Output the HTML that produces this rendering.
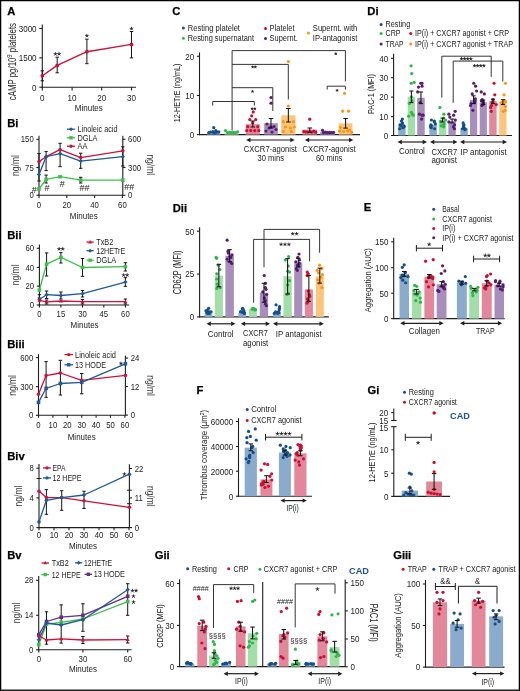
<!DOCTYPE html>
<html><head><meta charset="utf-8"><style>
html,body{margin:0;padding:0;background:#fff;}
body{width:520px;height:691px;overflow:hidden;}
svg{display:block;font-family:"Liberation Sans",sans-serif;will-change:transform;filter:blur(0.3px);}
</style></head><body>
<svg width="520" height="691" viewBox="0 0 520 691" fill="#222">
<rect x="0" y="0" width="520" height="691" fill="#fff"/>
<text x="7.2" y="14.8" font-size="11.2" font-weight="bold" fill="#000" stroke="#000" stroke-width="0.25">A</text>
<line x1="42.3" y1="24.6" x2="42.3" y2="87.7" stroke="#1e1e1e" stroke-width="1.1"/>
<line x1="39.3" y1="28.5" x2="42.3" y2="28.5" stroke="#1e1e1e" stroke-width="1.1"/>
<text x="36.6" y="31.86" font-size="9.6" text-anchor="end" textLength="17.94" lengthAdjust="spacingAndGlyphs">3000</text>
<line x1="39.3" y1="57.85" x2="42.3" y2="57.85" stroke="#1e1e1e" stroke-width="1.1"/>
<text x="36.6" y="61.21" font-size="9.6" text-anchor="end" textLength="17.94" lengthAdjust="spacingAndGlyphs">1500</text>
<line x1="39.3" y1="87.2" x2="42.3" y2="87.2" stroke="#1e1e1e" stroke-width="1.1"/>
<text x="36.6" y="90.56" font-size="9.6" text-anchor="end" textLength="4.48" lengthAdjust="spacingAndGlyphs">0</text>
<line x1="41.8" y1="87.2" x2="136" y2="87.2" stroke="#1e1e1e" stroke-width="1.1"/>
<line x1="42.3" y1="87.2" x2="42.3" y2="90.5" stroke="#1e1e1e" stroke-width="1.1"/>
<text x="42.3" y="100.76" font-size="9.6" text-anchor="middle" textLength="4.48" lengthAdjust="spacingAndGlyphs">0</text>
<line x1="72.1" y1="87.2" x2="72.1" y2="90.5" stroke="#1e1e1e" stroke-width="1.1"/>
<text x="72.1" y="100.76" font-size="9.6" text-anchor="middle" textLength="8.97" lengthAdjust="spacingAndGlyphs">10</text>
<line x1="101.7" y1="87.2" x2="101.7" y2="90.5" stroke="#1e1e1e" stroke-width="1.1"/>
<text x="101.7" y="100.76" font-size="9.6" text-anchor="middle" textLength="8.97" lengthAdjust="spacingAndGlyphs">20</text>
<line x1="131.5" y1="87.2" x2="131.5" y2="90.5" stroke="#1e1e1e" stroke-width="1.1"/>
<text x="131.5" y="100.76" font-size="9.6" text-anchor="middle" textLength="8.97" lengthAdjust="spacingAndGlyphs">30</text>
<text x="88.8" y="110.95" font-size="9" text-anchor="middle" textLength="28" lengthAdjust="spacingAndGlyphs">Minutes</text>
<text transform="rotate(-90 12.6 61.6)" x="12.6" y="65.1" font-size="10" text-anchor="middle" textLength="77.2" lengthAdjust="spacingAndGlyphs">cAMP pg/10<tspan font-size="7.5" dy="-3.8">9</tspan><tspan dy="3.8"> platelets</tspan></text>
<line x1="42.3" y1="70.8" x2="42.3" y2="80.8" stroke="#151515" stroke-width="1"/>
<line x1="40.6" y1="70.8" x2="44" y2="70.8" stroke="#151515" stroke-width="1"/>
<line x1="40.6" y1="80.8" x2="44" y2="80.8" stroke="#151515" stroke-width="1"/>
<line x1="57.2" y1="57.2" x2="57.2" y2="72.8" stroke="#151515" stroke-width="1"/>
<line x1="55.5" y1="57.2" x2="58.9" y2="57.2" stroke="#151515" stroke-width="1"/>
<line x1="55.5" y1="72.8" x2="58.9" y2="72.8" stroke="#151515" stroke-width="1"/>
<line x1="86.9" y1="39.2" x2="86.9" y2="63.7" stroke="#151515" stroke-width="1"/>
<line x1="85.2" y1="39.2" x2="88.6" y2="39.2" stroke="#151515" stroke-width="1"/>
<line x1="85.2" y1="63.7" x2="88.6" y2="63.7" stroke="#151515" stroke-width="1"/>
<line x1="131.5" y1="31.5" x2="131.5" y2="57.9" stroke="#151515" stroke-width="1"/>
<line x1="129.8" y1="31.5" x2="133.2" y2="31.5" stroke="#151515" stroke-width="1"/>
<line x1="129.8" y1="57.9" x2="133.2" y2="57.9" stroke="#151515" stroke-width="1"/>
<polyline points="42.3,75.8 57.2,65.4 86.9,51.7 131.5,44.4" fill="none" stroke="#d0103a" stroke-width="1.4" stroke-linejoin="round"/>
<circle cx="42.3" cy="75.8" r="1.9" fill="#d0103a"/>
<circle cx="57.2" cy="65.4" r="1.9" fill="#d0103a"/>
<circle cx="86.9" cy="51.7" r="1.9" fill="#d0103a"/>
<circle cx="131.5" cy="44.4" r="1.9" fill="#d0103a"/>
<path d="M55.4 54L55.4 52.5M55.4 54L56.83 53.54M55.4 54L56.28 55.21M55.4 54L54.52 55.21M55.4 54L53.97 53.54" stroke="#222" stroke-width="0.85" stroke-linecap="round"/>
<path d="M59 54L59 52.5M59 54L60.43 53.54M59 54L59.88 55.21M59 54L58.12 55.21M59 54L57.57 53.54" stroke="#222" stroke-width="0.85" stroke-linecap="round"/>
<path d="M86.9 35.8L86.9 34.3M86.9 35.8L88.33 35.34M86.9 35.8L87.78 37.01M86.9 35.8L86.02 37.01M86.9 35.8L85.47 35.34" stroke="#222" stroke-width="0.85" stroke-linecap="round"/>
<path d="M131.5 28.7L131.5 27.2M131.5 28.7L132.93 28.24M131.5 28.7L132.38 29.91M131.5 28.7L130.62 29.91M131.5 28.7L130.07 28.24" stroke="#222" stroke-width="0.85" stroke-linecap="round"/>
<text x="7.2" y="127" font-size="11.2" font-weight="bold" fill="#000" stroke="#000" stroke-width="0.25">Bi</text>
<line x1="39" y1="135.7" x2="39" y2="195.8" stroke="#1e1e1e" stroke-width="1.1"/>
<line x1="36.4" y1="139.3" x2="39" y2="139.3" stroke="#1e1e1e" stroke-width="1.1"/>
<text x="33.7" y="142.45" font-size="9" text-anchor="end" textLength="12.91" lengthAdjust="spacingAndGlyphs">150</text>
<line x1="36.4" y1="167.5" x2="39" y2="167.5" stroke="#1e1e1e" stroke-width="1.1"/>
<text x="33.7" y="170.65" font-size="9" text-anchor="end" textLength="8.61" lengthAdjust="spacingAndGlyphs">75</text>
<line x1="36.4" y1="195.3" x2="39" y2="195.3" stroke="#1e1e1e" stroke-width="1.1"/>
<text x="33.7" y="198.45" font-size="9" text-anchor="end" textLength="4.3" lengthAdjust="spacingAndGlyphs">0</text>
<line x1="122.8" y1="135.7" x2="122.8" y2="195.8" stroke="#1e1e1e" stroke-width="1.1"/>
<line x1="122.8" y1="139.3" x2="125.4" y2="139.3" stroke="#1e1e1e" stroke-width="1.1"/>
<text x="128.1" y="142.45" font-size="9" textLength="12.91" lengthAdjust="spacingAndGlyphs">600</text>
<line x1="122.8" y1="167.5" x2="125.4" y2="167.5" stroke="#1e1e1e" stroke-width="1.1"/>
<text x="128.1" y="170.65" font-size="9" textLength="12.91" lengthAdjust="spacingAndGlyphs">300</text>
<line x1="122.8" y1="195.3" x2="125.4" y2="195.3" stroke="#1e1e1e" stroke-width="1.1"/>
<text x="128.1" y="198.45" font-size="9" textLength="4.3" lengthAdjust="spacingAndGlyphs">0</text>
<line x1="38.5" y1="195.3" x2="122.8" y2="195.3" stroke="#1e1e1e" stroke-width="1.1"/>
<line x1="39" y1="195.3" x2="39" y2="197.9" stroke="#1e1e1e" stroke-width="1.1"/>
<text x="39" y="207.95" font-size="9" text-anchor="middle" textLength="4.3" lengthAdjust="spacingAndGlyphs">0</text>
<line x1="66.8" y1="195.3" x2="66.8" y2="197.9" stroke="#1e1e1e" stroke-width="1.1"/>
<text x="66.8" y="207.95" font-size="9" text-anchor="middle" textLength="8.61" lengthAdjust="spacingAndGlyphs">20</text>
<line x1="94.6" y1="195.3" x2="94.6" y2="197.9" stroke="#1e1e1e" stroke-width="1.1"/>
<text x="94.6" y="207.95" font-size="9" text-anchor="middle" textLength="8.61" lengthAdjust="spacingAndGlyphs">40</text>
<line x1="122.4" y1="195.3" x2="122.4" y2="197.9" stroke="#1e1e1e" stroke-width="1.1"/>
<text x="122.4" y="207.95" font-size="9" text-anchor="middle" textLength="8.61" lengthAdjust="spacingAndGlyphs">60</text>
<text x="83.8" y="219.15" font-size="9" text-anchor="middle" textLength="28" lengthAdjust="spacingAndGlyphs">Minutes</text>
<text transform="rotate(-90 15.5 165.5)" x="15.5" y="169" font-size="10" text-anchor="middle" textLength="20.8" lengthAdjust="spacingAndGlyphs" fill="#3a3a3a">ng/ml</text>
<text transform="rotate(90 150.6 164.8)" x="150.6" y="168.3" font-size="10" text-anchor="middle" textLength="20.8" lengthAdjust="spacingAndGlyphs" fill="#3a3a3a">ng/ml</text>
<line x1="67" y1="129.2" x2="75" y2="129.2" stroke="#1f5a96" stroke-width="1.3"/>
<path d="M71 127.16L73.04 129.2L71 131.24L68.96 129.2Z" fill="#1f5a96"/>
<text x="77.5" y="132.17" font-size="8.5" textLength="40" lengthAdjust="spacingAndGlyphs">Linoleic acid</text>
<line x1="67" y1="137.8" x2="75" y2="137.8" stroke="#3cc04a" stroke-width="1.3"/>
<rect x="69.3" y="136.1" width="3.4" height="3.4" fill="#3cc04a"/>
<text x="77.5" y="140.78" font-size="8.5" textLength="20" lengthAdjust="spacingAndGlyphs">DGLA</text>
<line x1="67" y1="146.2" x2="75" y2="146.2" stroke="#d0103a" stroke-width="1.3"/>
<circle cx="71" cy="146.2" r="1.7" fill="#d0103a"/>
<text x="77.5" y="149.17" font-size="8.5" textLength="10" lengthAdjust="spacingAndGlyphs">AA</text>
<line x1="39" y1="153.6" x2="39" y2="181" stroke="#151515" stroke-width="1"/>
<line x1="37.3" y1="153.6" x2="40.7" y2="153.6" stroke="#151515" stroke-width="1"/>
<line x1="37.3" y1="181" x2="40.7" y2="181" stroke="#151515" stroke-width="1"/>
<line x1="46.1" y1="151.6" x2="46.1" y2="170.6" stroke="#151515" stroke-width="1"/>
<line x1="44.4" y1="151.6" x2="47.8" y2="151.6" stroke="#151515" stroke-width="1"/>
<line x1="44.4" y1="170.6" x2="47.8" y2="170.6" stroke="#151515" stroke-width="1"/>
<line x1="46.1" y1="175.1" x2="46.1" y2="183" stroke="#151515" stroke-width="1"/>
<line x1="44.4" y1="175.1" x2="47.8" y2="175.1" stroke="#151515" stroke-width="1"/>
<line x1="44.4" y1="183" x2="47.8" y2="183" stroke="#151515" stroke-width="1"/>
<line x1="60.1" y1="143.3" x2="60.1" y2="166.7" stroke="#151515" stroke-width="1"/>
<line x1="58.4" y1="143.3" x2="61.8" y2="143.3" stroke="#151515" stroke-width="1"/>
<line x1="58.4" y1="166.7" x2="61.8" y2="166.7" stroke="#151515" stroke-width="1"/>
<line x1="80.7" y1="153.2" x2="80.7" y2="168.3" stroke="#151515" stroke-width="1"/>
<line x1="79" y1="153.2" x2="82.4" y2="153.2" stroke="#151515" stroke-width="1"/>
<line x1="79" y1="168.3" x2="82.4" y2="168.3" stroke="#151515" stroke-width="1"/>
<line x1="80.7" y1="177.3" x2="80.7" y2="183" stroke="#151515" stroke-width="1"/>
<line x1="79" y1="177.3" x2="82.4" y2="177.3" stroke="#151515" stroke-width="1"/>
<line x1="79" y1="183" x2="82.4" y2="183" stroke="#151515" stroke-width="1"/>
<line x1="122.8" y1="146.8" x2="122.8" y2="166" stroke="#151515" stroke-width="1"/>
<line x1="121.1" y1="146.8" x2="124.5" y2="146.8" stroke="#151515" stroke-width="1"/>
<line x1="121.1" y1="166" x2="124.5" y2="166" stroke="#151515" stroke-width="1"/>
<polyline points="39,161.6 46.1,156.7 60.1,149.7 80.7,157.6 122.8,150.8" fill="none" stroke="#d0103a" stroke-width="1.3" stroke-linejoin="round"/>
<circle cx="39" cy="161.6" r="1.8" fill="#d0103a"/>
<circle cx="46.1" cy="156.7" r="1.8" fill="#d0103a"/>
<circle cx="60.1" cy="149.7" r="1.8" fill="#d0103a"/>
<circle cx="80.7" cy="157.6" r="1.8" fill="#d0103a"/>
<circle cx="122.8" cy="150.8" r="1.8" fill="#d0103a"/>
<polyline points="39,174.6 46.1,156.7 60.1,153.6 80.7,161.1 122.8,156.7" fill="none" stroke="#1f5a96" stroke-width="1.3" stroke-linejoin="round"/>
<path d="M39 172.44L41.16 174.6L39 176.76L36.84 174.6Z" fill="#1f5a96"/>
<path d="M46.1 154.54L48.26 156.7L46.1 158.86L43.94 156.7Z" fill="#1f5a96"/>
<path d="M60.1 151.44L62.26 153.6L60.1 155.76L57.94 153.6Z" fill="#1f5a96"/>
<path d="M80.7 158.94L82.86 161.1L80.7 163.26L78.54 161.1Z" fill="#1f5a96"/>
<path d="M122.8 154.54L124.96 156.7L122.8 158.86L120.64 156.7Z" fill="#1f5a96"/>
<polyline points="39,189 46.1,179.4 60.1,176.7 80.7,180.2 122.8,180.2" fill="none" stroke="#3cc04a" stroke-width="1.3" stroke-linejoin="round"/>
<rect x="37.2" y="187.2" width="3.6" height="3.6" fill="#3cc04a"/>
<rect x="44.3" y="177.6" width="3.6" height="3.6" fill="#3cc04a"/>
<rect x="58.3" y="174.9" width="3.6" height="3.6" fill="#3cc04a"/>
<rect x="78.9" y="178.4" width="3.6" height="3.6" fill="#3cc04a"/>
<rect x="121" y="178.4" width="3.6" height="3.6" fill="#3cc04a"/>
<text x="34.2" y="192.55" font-size="9" text-anchor="middle">#</text>
<text x="46.9" y="191.25" font-size="9" text-anchor="middle">#</text>
<text x="62.3" y="186.55" font-size="9" text-anchor="middle">#</text>
<text x="84.6" y="191.25" font-size="9" text-anchor="middle">##</text>
<text x="129.2" y="190.15" font-size="9" text-anchor="middle">##</text>
<text x="7.2" y="239.4" font-size="11.2" font-weight="bold" fill="#000" stroke="#000" stroke-width="0.25">Bii</text>
<line x1="39.4" y1="244.6" x2="39.4" y2="305.5" stroke="#1e1e1e" stroke-width="1.1"/>
<line x1="36.8" y1="248.3" x2="39.4" y2="248.3" stroke="#1e1e1e" stroke-width="1.1"/>
<text x="34.1" y="251.45" font-size="9" text-anchor="end" textLength="8.61" lengthAdjust="spacingAndGlyphs">60</text>
<line x1="36.8" y1="267.4" x2="39.4" y2="267.4" stroke="#1e1e1e" stroke-width="1.1"/>
<text x="34.1" y="270.55" font-size="9" text-anchor="end" textLength="8.61" lengthAdjust="spacingAndGlyphs">40</text>
<line x1="36.8" y1="286.1" x2="39.4" y2="286.1" stroke="#1e1e1e" stroke-width="1.1"/>
<text x="34.1" y="289.25" font-size="9" text-anchor="end" textLength="8.61" lengthAdjust="spacingAndGlyphs">20</text>
<line x1="36.8" y1="305" x2="39.4" y2="305" stroke="#1e1e1e" stroke-width="1.1"/>
<text x="34.1" y="308.15" font-size="9" text-anchor="end" textLength="4.3" lengthAdjust="spacingAndGlyphs">0</text>
<line x1="38.9" y1="305" x2="129.2" y2="305" stroke="#1e1e1e" stroke-width="1.1"/>
<line x1="39.4" y1="305" x2="39.4" y2="307.6" stroke="#1e1e1e" stroke-width="1.1"/>
<text x="39.4" y="317.45" font-size="9" text-anchor="middle" textLength="4.3" lengthAdjust="spacingAndGlyphs">0</text>
<line x1="60.9" y1="305" x2="60.9" y2="307.6" stroke="#1e1e1e" stroke-width="1.1"/>
<text x="60.9" y="317.45" font-size="9" text-anchor="middle" textLength="8.61" lengthAdjust="spacingAndGlyphs">15</text>
<line x1="82.5" y1="305" x2="82.5" y2="307.6" stroke="#1e1e1e" stroke-width="1.1"/>
<text x="82.5" y="317.45" font-size="9" text-anchor="middle" textLength="8.61" lengthAdjust="spacingAndGlyphs">30</text>
<line x1="103.8" y1="305" x2="103.8" y2="307.6" stroke="#1e1e1e" stroke-width="1.1"/>
<text x="103.8" y="317.45" font-size="9" text-anchor="middle" textLength="8.61" lengthAdjust="spacingAndGlyphs">45</text>
<line x1="125.4" y1="305" x2="125.4" y2="307.6" stroke="#1e1e1e" stroke-width="1.1"/>
<text x="125.4" y="317.45" font-size="9" text-anchor="middle" textLength="8.61" lengthAdjust="spacingAndGlyphs">60</text>
<text x="84.6" y="327.95" font-size="9" text-anchor="middle" textLength="28" lengthAdjust="spacingAndGlyphs">Minutes</text>
<text transform="rotate(-90 15.4 274.8)" x="15.4" y="278.3" font-size="10" text-anchor="middle" textLength="20.8" lengthAdjust="spacingAndGlyphs" fill="#3a3a3a">ng/ml</text>
<line x1="86.5" y1="242.1" x2="93.7" y2="242.1" stroke="#d0103a" stroke-width="1.3"/>
<path d="M90.1 240.06L91.97 243.46L88.23 243.46Z" fill="#d0103a"/>
<text x="96.2" y="245.07" font-size="8.5" textLength="17" lengthAdjust="spacingAndGlyphs">TxB2</text>
<line x1="86.5" y1="250.7" x2="93.7" y2="250.7" stroke="#1f5a96" stroke-width="1.3"/>
<path d="M90.1 248.66L92.14 250.7L90.1 252.74L88.06 250.7Z" fill="#1f5a96"/>
<text x="96.2" y="253.67" font-size="8.5" textLength="29" lengthAdjust="spacingAndGlyphs">12HETrE</text>
<line x1="86.5" y1="260.2" x2="93.7" y2="260.2" stroke="#3cc04a" stroke-width="1.3"/>
<rect x="88.4" y="258.5" width="3.4" height="3.4" fill="#3cc04a"/>
<text x="96.2" y="263.18" font-size="8.5" textLength="20" lengthAdjust="spacingAndGlyphs">DGLA</text>
<line x1="46.6" y1="252.9" x2="46.6" y2="276" stroke="#151515" stroke-width="1"/>
<line x1="44.9" y1="252.9" x2="48.3" y2="252.9" stroke="#151515" stroke-width="1"/>
<line x1="44.9" y1="276" x2="48.3" y2="276" stroke="#151515" stroke-width="1"/>
<line x1="60.9" y1="252.6" x2="60.9" y2="263" stroke="#151515" stroke-width="1"/>
<line x1="59.2" y1="252.6" x2="62.6" y2="252.6" stroke="#151515" stroke-width="1"/>
<line x1="59.2" y1="263" x2="62.6" y2="263" stroke="#151515" stroke-width="1"/>
<line x1="82.5" y1="258.5" x2="82.5" y2="276.3" stroke="#151515" stroke-width="1"/>
<line x1="80.8" y1="258.5" x2="84.2" y2="258.5" stroke="#151515" stroke-width="1"/>
<line x1="80.8" y1="276.3" x2="84.2" y2="276.3" stroke="#151515" stroke-width="1"/>
<line x1="125.4" y1="262.7" x2="125.4" y2="271" stroke="#151515" stroke-width="1"/>
<line x1="123.7" y1="262.7" x2="127.1" y2="262.7" stroke="#151515" stroke-width="1"/>
<line x1="123.7" y1="271" x2="127.1" y2="271" stroke="#151515" stroke-width="1"/>
<line x1="46.6" y1="291" x2="46.6" y2="298.5" stroke="#151515" stroke-width="1"/>
<line x1="44.9" y1="291" x2="48.3" y2="291" stroke="#151515" stroke-width="1"/>
<line x1="44.9" y1="298.5" x2="48.3" y2="298.5" stroke="#151515" stroke-width="1"/>
<line x1="60.9" y1="292" x2="60.9" y2="299" stroke="#151515" stroke-width="1"/>
<line x1="59.2" y1="292" x2="62.6" y2="292" stroke="#151515" stroke-width="1"/>
<line x1="59.2" y1="299" x2="62.6" y2="299" stroke="#151515" stroke-width="1"/>
<line x1="82.5" y1="290.5" x2="82.5" y2="297" stroke="#151515" stroke-width="1"/>
<line x1="80.8" y1="290.5" x2="84.2" y2="290.5" stroke="#151515" stroke-width="1"/>
<line x1="80.8" y1="297" x2="84.2" y2="297" stroke="#151515" stroke-width="1"/>
<line x1="125.4" y1="277.7" x2="125.4" y2="286.3" stroke="#151515" stroke-width="1"/>
<line x1="123.7" y1="277.7" x2="127.1" y2="277.7" stroke="#151515" stroke-width="1"/>
<line x1="123.7" y1="286.3" x2="127.1" y2="286.3" stroke="#151515" stroke-width="1"/>
<line x1="39.4" y1="294.7" x2="39.4" y2="298" stroke="#151515" stroke-width="1"/>
<line x1="37.7" y1="294.7" x2="41.1" y2="294.7" stroke="#151515" stroke-width="1"/>
<line x1="37.7" y1="298" x2="41.1" y2="298" stroke="#151515" stroke-width="1"/>
<line x1="125.4" y1="299" x2="125.4" y2="304" stroke="#151515" stroke-width="1"/>
<line x1="123.7" y1="299" x2="127.1" y2="299" stroke="#151515" stroke-width="1"/>
<line x1="123.7" y1="304" x2="127.1" y2="304" stroke="#151515" stroke-width="1"/>
<line x1="82.5" y1="299.5" x2="82.5" y2="304" stroke="#151515" stroke-width="1"/>
<line x1="80.8" y1="299.5" x2="84.2" y2="299.5" stroke="#151515" stroke-width="1"/>
<line x1="80.8" y1="304" x2="84.2" y2="304" stroke="#151515" stroke-width="1"/>
<line x1="46.6" y1="300" x2="46.6" y2="304" stroke="#151515" stroke-width="1"/>
<line x1="44.9" y1="300" x2="48.3" y2="300" stroke="#151515" stroke-width="1"/>
<line x1="44.9" y1="304" x2="48.3" y2="304" stroke="#151515" stroke-width="1"/>
<polyline points="39.4,290 46.6,264.2 60.9,257.4 82.5,267.5 125.4,266.7" fill="none" stroke="#3cc04a" stroke-width="1.3" stroke-linejoin="round"/>
<rect x="37.6" y="288.2" width="3.6" height="3.6" fill="#3cc04a"/>
<rect x="44.8" y="262.4" width="3.6" height="3.6" fill="#3cc04a"/>
<rect x="59.1" y="255.6" width="3.6" height="3.6" fill="#3cc04a"/>
<rect x="80.7" y="265.7" width="3.6" height="3.6" fill="#3cc04a"/>
<rect x="123.6" y="264.9" width="3.6" height="3.6" fill="#3cc04a"/>
<polyline points="39.4,299.5 46.6,294.7 60.9,295.5 82.5,293.7 125.4,282.1" fill="none" stroke="#1f5a96" stroke-width="1.3" stroke-linejoin="round"/>
<path d="M39.4 297.34L41.56 299.5L39.4 301.66L37.24 299.5Z" fill="#1f5a96"/>
<path d="M46.6 292.54L48.76 294.7L46.6 296.86L44.44 294.7Z" fill="#1f5a96"/>
<path d="M60.9 293.34L63.06 295.5L60.9 297.66L58.74 295.5Z" fill="#1f5a96"/>
<path d="M82.5 291.54L84.66 293.7L82.5 295.86L80.34 293.7Z" fill="#1f5a96"/>
<path d="M125.4 279.94L127.56 282.1L125.4 284.26L123.24 282.1Z" fill="#1f5a96"/>
<polyline points="39.4,300.3 46.6,301.9 60.9,301 82.5,301.7 125.4,301.7" fill="none" stroke="#d0103a" stroke-width="1.3" stroke-linejoin="round"/>
<path d="M39.4 298.14L41.38 301.74L37.42 301.74Z" fill="#d0103a"/>
<path d="M46.6 299.74L48.58 303.34L44.62 303.34Z" fill="#d0103a"/>
<path d="M60.9 298.84L62.88 302.44L58.92 302.44Z" fill="#d0103a"/>
<path d="M82.5 299.54L84.48 303.14L80.52 303.14Z" fill="#d0103a"/>
<path d="M125.4 299.54L127.38 303.14L123.42 303.14Z" fill="#d0103a"/>
<path d="M59.1 249L59.1 247.5M59.1 249L60.53 248.54M59.1 249L59.98 250.21M59.1 249L58.22 250.21M59.1 249L57.67 248.54" stroke="#222" stroke-width="0.85" stroke-linecap="round"/>
<path d="M62.7 249L62.7 247.5M62.7 249L64.13 248.54M62.7 249L63.58 250.21M62.7 249L61.82 250.21M62.7 249L61.27 248.54" stroke="#222" stroke-width="0.85" stroke-linecap="round"/>
<path d="M123.6 275.2L123.6 273.7M123.6 275.2L125.03 274.74M123.6 275.2L124.48 276.41M123.6 275.2L122.72 276.41M123.6 275.2L122.17 274.74" stroke="#222" stroke-width="0.85" stroke-linecap="round"/>
<path d="M127.2 275.2L127.2 273.7M127.2 275.2L128.63 274.74M127.2 275.2L128.08 276.41M127.2 275.2L126.32 276.41M127.2 275.2L125.77 274.74" stroke="#222" stroke-width="0.85" stroke-linecap="round"/>
<text x="7.2" y="348.4" font-size="11.2" font-weight="bold" fill="#000" stroke="#000" stroke-width="0.25">Biii</text>
<line x1="38.5" y1="354.1" x2="38.5" y2="415.8" stroke="#1e1e1e" stroke-width="1.1"/>
<line x1="35.9" y1="357.6" x2="38.5" y2="357.6" stroke="#1e1e1e" stroke-width="1.1"/>
<text x="33.2" y="360.75" font-size="9" text-anchor="end" textLength="12.91" lengthAdjust="spacingAndGlyphs">600</text>
<line x1="35.9" y1="386.7" x2="38.5" y2="386.7" stroke="#1e1e1e" stroke-width="1.1"/>
<text x="33.2" y="389.85" font-size="9" text-anchor="end" textLength="12.91" lengthAdjust="spacingAndGlyphs">300</text>
<line x1="35.9" y1="415.3" x2="38.5" y2="415.3" stroke="#1e1e1e" stroke-width="1.1"/>
<text x="33.2" y="418.45" font-size="9" text-anchor="end" textLength="4.3" lengthAdjust="spacingAndGlyphs">0</text>
<line x1="125.4" y1="355.8" x2="125.4" y2="415.8" stroke="#1e1e1e" stroke-width="1.1"/>
<line x1="125.4" y1="358.1" x2="128" y2="358.1" stroke="#1e1e1e" stroke-width="1.1"/>
<text x="130.7" y="361.25" font-size="9" textLength="8.61" lengthAdjust="spacingAndGlyphs">24</text>
<line x1="125.4" y1="386.5" x2="128" y2="386.5" stroke="#1e1e1e" stroke-width="1.1"/>
<text x="130.7" y="389.65" font-size="9" textLength="8.61" lengthAdjust="spacingAndGlyphs">12</text>
<line x1="125.4" y1="415.1" x2="128" y2="415.1" stroke="#1e1e1e" stroke-width="1.1"/>
<text x="130.7" y="418.25" font-size="9" textLength="4.3" lengthAdjust="spacingAndGlyphs">0</text>
<line x1="38" y1="415.2" x2="125.4" y2="415.2" stroke="#1e1e1e" stroke-width="1.1"/>
<line x1="38.5" y1="415.2" x2="38.5" y2="417.8" stroke="#1e1e1e" stroke-width="1.1"/>
<text x="38.5" y="427.95" font-size="9" text-anchor="middle" textLength="4.3" lengthAdjust="spacingAndGlyphs">0</text>
<line x1="52.9" y1="415.2" x2="52.9" y2="417.8" stroke="#1e1e1e" stroke-width="1.1"/>
<text x="52.9" y="427.95" font-size="9" text-anchor="middle" textLength="8.61" lengthAdjust="spacingAndGlyphs">10</text>
<line x1="67.3" y1="415.2" x2="67.3" y2="417.8" stroke="#1e1e1e" stroke-width="1.1"/>
<text x="67.3" y="427.95" font-size="9" text-anchor="middle" textLength="8.61" lengthAdjust="spacingAndGlyphs">20</text>
<line x1="81.7" y1="415.2" x2="81.7" y2="417.8" stroke="#1e1e1e" stroke-width="1.1"/>
<text x="81.7" y="427.95" font-size="9" text-anchor="middle" textLength="8.61" lengthAdjust="spacingAndGlyphs">30</text>
<line x1="96.1" y1="415.2" x2="96.1" y2="417.8" stroke="#1e1e1e" stroke-width="1.1"/>
<text x="96.1" y="427.95" font-size="9" text-anchor="middle" textLength="8.61" lengthAdjust="spacingAndGlyphs">40</text>
<line x1="110.5" y1="415.2" x2="110.5" y2="417.8" stroke="#1e1e1e" stroke-width="1.1"/>
<text x="110.5" y="427.95" font-size="9" text-anchor="middle" textLength="8.61" lengthAdjust="spacingAndGlyphs">50</text>
<line x1="124.9" y1="415.2" x2="124.9" y2="417.8" stroke="#1e1e1e" stroke-width="1.1"/>
<text x="124.9" y="427.95" font-size="9" text-anchor="middle" textLength="8.61" lengthAdjust="spacingAndGlyphs">60</text>
<text x="81.7" y="440.45" font-size="9" text-anchor="middle" textLength="28" lengthAdjust="spacingAndGlyphs">Minutes</text>
<text transform="rotate(-90 12.1 385.4)" x="12.1" y="388.9" font-size="10" text-anchor="middle" textLength="20.8" lengthAdjust="spacingAndGlyphs" fill="#3a3a3a">ng/ml</text>
<text transform="rotate(90 150 385.6)" x="150" y="389.1" font-size="10" text-anchor="middle" textLength="20.8" lengthAdjust="spacingAndGlyphs" fill="#3a3a3a">ng/ml</text>
<line x1="64.5" y1="354.6" x2="73" y2="354.6" stroke="#d0103a" stroke-width="1.3"/>
<circle cx="68.75" cy="354.6" r="1.7" fill="#d0103a"/>
<text x="75" y="357.58" font-size="8.5" textLength="41" lengthAdjust="spacingAndGlyphs">Linoleic acid</text>
<line x1="64.5" y1="364.8" x2="73" y2="364.8" stroke="#1f5a96" stroke-width="1.3"/>
<rect x="67.05" y="363.1" width="3.4" height="3.4" fill="#1f5a96"/>
<text x="75" y="367.78" font-size="8.5" textLength="31" lengthAdjust="spacingAndGlyphs">13 HODE</text>
<line x1="46.1" y1="361.6" x2="46.1" y2="397.3" stroke="#151515" stroke-width="1"/>
<line x1="44.4" y1="361.6" x2="47.8" y2="361.6" stroke="#151515" stroke-width="1"/>
<line x1="44.4" y1="397.3" x2="47.8" y2="397.3" stroke="#151515" stroke-width="1"/>
<line x1="60.4" y1="360.3" x2="60.4" y2="395" stroke="#151515" stroke-width="1"/>
<line x1="58.7" y1="360.3" x2="62.1" y2="360.3" stroke="#151515" stroke-width="1"/>
<line x1="58.7" y1="395" x2="62.1" y2="395" stroke="#151515" stroke-width="1"/>
<line x1="81.7" y1="373.5" x2="81.7" y2="393.8" stroke="#151515" stroke-width="1"/>
<line x1="80" y1="373.5" x2="83.4" y2="373.5" stroke="#151515" stroke-width="1"/>
<line x1="80" y1="393.8" x2="83.4" y2="393.8" stroke="#151515" stroke-width="1"/>
<polyline points="38.5,394.2 46.1,375.6 60.4,373 81.7,380.4 125.4,375.4" fill="none" stroke="#d0103a" stroke-width="1.3" stroke-linejoin="round"/>
<circle cx="38.5" cy="394.2" r="1.8" fill="#d0103a"/>
<circle cx="46.1" cy="375.6" r="1.8" fill="#d0103a"/>
<circle cx="60.4" cy="373" r="1.8" fill="#d0103a"/>
<circle cx="81.7" cy="380.4" r="1.8" fill="#d0103a"/>
<circle cx="125.4" cy="375.4" r="1.8" fill="#d0103a"/>
<polyline points="38.5,402.4 46.1,388.3 60.4,383.5 81.7,382.3 125.4,363.8" fill="none" stroke="#1f5a96" stroke-width="1.3" stroke-linejoin="round"/>
<rect x="36.7" y="400.6" width="3.6" height="3.6" fill="#1f5a96"/>
<rect x="44.3" y="386.5" width="3.6" height="3.6" fill="#1f5a96"/>
<rect x="58.6" y="381.7" width="3.6" height="3.6" fill="#1f5a96"/>
<rect x="79.9" y="380.5" width="3.6" height="3.6" fill="#1f5a96"/>
<rect x="123.6" y="362" width="3.6" height="3.6" fill="#1f5a96"/>
<path d="M121 363.5L121 362M121 363.5L122.43 363.04M121 363.5L121.88 364.71M121 363.5L120.12 364.71M121 363.5L119.57 363.04" stroke="#222" stroke-width="0.85" stroke-linecap="round"/>
<text x="7.2" y="460.2" font-size="11.2" font-weight="bold" fill="#000" stroke="#000" stroke-width="0.25">Biv</text>
<line x1="39" y1="463.9" x2="39" y2="528.1" stroke="#1e1e1e" stroke-width="1.1"/>
<line x1="36.4" y1="468.2" x2="39" y2="468.2" stroke="#1e1e1e" stroke-width="1.1"/>
<text x="33.7" y="471.35" font-size="9" text-anchor="end" textLength="4.3" lengthAdjust="spacingAndGlyphs">8</text>
<line x1="36.4" y1="497.9" x2="39" y2="497.9" stroke="#1e1e1e" stroke-width="1.1"/>
<text x="33.7" y="501.05" font-size="9" text-anchor="end" textLength="4.3" lengthAdjust="spacingAndGlyphs">4</text>
<line x1="36.4" y1="527.6" x2="39" y2="527.6" stroke="#1e1e1e" stroke-width="1.1"/>
<text x="33.7" y="530.75" font-size="9" text-anchor="end" textLength="4.3" lengthAdjust="spacingAndGlyphs">0</text>
<line x1="36.6" y1="478.5" x2="41.4" y2="478.5" stroke="#1e1e1e" stroke-width="1"/>
<line x1="129.4" y1="464.2" x2="129.4" y2="528.1" stroke="#1e1e1e" stroke-width="1.1"/>
<line x1="129.4" y1="468.5" x2="132" y2="468.5" stroke="#1e1e1e" stroke-width="1.1"/>
<text x="134.7" y="471.65" font-size="9" textLength="8.61" lengthAdjust="spacingAndGlyphs">22</text>
<line x1="129.4" y1="497.9" x2="132" y2="497.9" stroke="#1e1e1e" stroke-width="1.1"/>
<text x="134.7" y="501.05" font-size="9" textLength="8.04" lengthAdjust="spacingAndGlyphs">11</text>
<line x1="129.4" y1="527.6" x2="132" y2="527.6" stroke="#1e1e1e" stroke-width="1.1"/>
<text x="134.7" y="530.75" font-size="9" textLength="4.3" lengthAdjust="spacingAndGlyphs">0</text>
<line x1="127" y1="490.2" x2="131.8" y2="490.2" stroke="#1e1e1e" stroke-width="1"/>
<line x1="127" y1="503.7" x2="131.8" y2="503.7" stroke="#1e1e1e" stroke-width="1"/>
<line x1="38.5" y1="527.6" x2="129.4" y2="527.6" stroke="#1e1e1e" stroke-width="1.1"/>
<line x1="39" y1="527.6" x2="39" y2="530.2" stroke="#1e1e1e" stroke-width="1.1"/>
<text x="39" y="538.15" font-size="9" text-anchor="middle" textLength="4.3" lengthAdjust="spacingAndGlyphs">0</text>
<line x1="54" y1="527.6" x2="54" y2="530.2" stroke="#1e1e1e" stroke-width="1.1"/>
<text x="54" y="538.15" font-size="9" text-anchor="middle" textLength="8.61" lengthAdjust="spacingAndGlyphs">10</text>
<line x1="69" y1="527.6" x2="69" y2="530.2" stroke="#1e1e1e" stroke-width="1.1"/>
<text x="69" y="538.15" font-size="9" text-anchor="middle" textLength="8.61" lengthAdjust="spacingAndGlyphs">20</text>
<line x1="84" y1="527.6" x2="84" y2="530.2" stroke="#1e1e1e" stroke-width="1.1"/>
<text x="84" y="538.15" font-size="9" text-anchor="middle" textLength="8.61" lengthAdjust="spacingAndGlyphs">30</text>
<line x1="99" y1="527.6" x2="99" y2="530.2" stroke="#1e1e1e" stroke-width="1.1"/>
<text x="99" y="538.15" font-size="9" text-anchor="middle" textLength="8.61" lengthAdjust="spacingAndGlyphs">40</text>
<line x1="114" y1="527.6" x2="114" y2="530.2" stroke="#1e1e1e" stroke-width="1.1"/>
<text x="114" y="538.15" font-size="9" text-anchor="middle" textLength="8.61" lengthAdjust="spacingAndGlyphs">50</text>
<line x1="129" y1="527.6" x2="129" y2="530.2" stroke="#1e1e1e" stroke-width="1.1"/>
<text x="129" y="538.15" font-size="9" text-anchor="middle" textLength="8.61" lengthAdjust="spacingAndGlyphs">60</text>
<text x="82.9" y="549.05" font-size="9" text-anchor="middle" textLength="28" lengthAdjust="spacingAndGlyphs">Minutes</text>
<text transform="rotate(-90 18.4 496)" x="18.4" y="499.5" font-size="10" text-anchor="middle" textLength="20.8" lengthAdjust="spacingAndGlyphs" fill="#3a3a3a">ng/ml</text>
<text transform="rotate(90 150 496.3)" x="150" y="499.8" font-size="10" text-anchor="middle" textLength="20.8" lengthAdjust="spacingAndGlyphs" fill="#3a3a3a">ng/ml</text>
<line x1="43" y1="467.9" x2="51" y2="467.9" stroke="#d0103a" stroke-width="1.3"/>
<circle cx="47" cy="467.9" r="1.7" fill="#d0103a"/>
<text x="52.5" y="470.88" font-size="8.5" textLength="13" lengthAdjust="spacingAndGlyphs">EPA</text>
<line x1="43" y1="477.9" x2="51" y2="477.9" stroke="#1f5a96" stroke-width="1.3"/>
<circle cx="47" cy="477.9" r="1.7" fill="#1f5a96"/>
<text x="52.5" y="480.88" font-size="8.5" textLength="29" lengthAdjust="spacingAndGlyphs">12 HEPE</text>
<line x1="46.4" y1="489.6" x2="46.4" y2="514.3" stroke="#151515" stroke-width="1"/>
<line x1="44.7" y1="489.6" x2="48.1" y2="489.6" stroke="#151515" stroke-width="1"/>
<line x1="44.7" y1="514.3" x2="48.1" y2="514.3" stroke="#151515" stroke-width="1"/>
<line x1="61.7" y1="490.7" x2="61.7" y2="510.3" stroke="#151515" stroke-width="1"/>
<line x1="60" y1="490.7" x2="63.4" y2="490.7" stroke="#151515" stroke-width="1"/>
<line x1="60" y1="510.3" x2="63.4" y2="510.3" stroke="#151515" stroke-width="1"/>
<line x1="84" y1="491.2" x2="84" y2="508.5" stroke="#151515" stroke-width="1"/>
<line x1="82.3" y1="491.2" x2="85.7" y2="491.2" stroke="#151515" stroke-width="1"/>
<line x1="82.3" y1="508.5" x2="85.7" y2="508.5" stroke="#151515" stroke-width="1"/>
<polyline points="39,491.2 46.4,497.6 61.7,497.6 84,500.8 129.4,507.3" fill="none" stroke="#d0103a" stroke-width="1.3" stroke-linejoin="round"/>
<circle cx="39" cy="491.2" r="1.8" fill="#d0103a"/>
<circle cx="46.4" cy="497.6" r="1.8" fill="#d0103a"/>
<circle cx="61.7" cy="497.6" r="1.8" fill="#d0103a"/>
<circle cx="84" cy="500.8" r="1.8" fill="#d0103a"/>
<circle cx="129.4" cy="507.3" r="1.8" fill="#d0103a"/>
<polyline points="39,521.9 46.4,500.3 61.7,497.6 84,495 129.4,474.2" fill="none" stroke="#1f5a96" stroke-width="1.3" stroke-linejoin="round"/>
<circle cx="39" cy="521.9" r="1.8" fill="#1f5a96"/>
<circle cx="46.4" cy="500.3" r="1.8" fill="#1f5a96"/>
<circle cx="61.7" cy="497.6" r="1.8" fill="#1f5a96"/>
<circle cx="84" cy="495" r="1.8" fill="#1f5a96"/>
<circle cx="129.4" cy="474.2" r="1.8" fill="#1f5a96"/>
<path d="M124.4 474.2L124.4 472.7M124.4 474.2L125.83 473.74M124.4 474.2L125.28 475.41M124.4 474.2L123.52 475.41M124.4 474.2L122.97 473.74" stroke="#222" stroke-width="0.85" stroke-linecap="round"/>
<text x="7.2" y="559.2" font-size="11.2" font-weight="bold" fill="#000" stroke="#000" stroke-width="0.25">Bv</text>
<line x1="38.7" y1="576" x2="38.7" y2="650.3" stroke="#1e1e1e" stroke-width="1.1"/>
<line x1="36.1" y1="580.3" x2="38.7" y2="580.3" stroke="#1e1e1e" stroke-width="1.1"/>
<text x="33.4" y="583.45" font-size="9" text-anchor="end" textLength="8.61" lengthAdjust="spacingAndGlyphs">28</text>
<line x1="36.1" y1="615.3" x2="38.7" y2="615.3" stroke="#1e1e1e" stroke-width="1.1"/>
<text x="33.4" y="618.45" font-size="9" text-anchor="end" textLength="8.61" lengthAdjust="spacingAndGlyphs">14</text>
<line x1="36.1" y1="649.8" x2="38.7" y2="649.8" stroke="#1e1e1e" stroke-width="1.1"/>
<text x="33.4" y="652.95" font-size="9" text-anchor="end" textLength="4.3" lengthAdjust="spacingAndGlyphs">0</text>
<line x1="38.2" y1="649.8" x2="131.6" y2="649.8" stroke="#1e1e1e" stroke-width="1.1"/>
<line x1="38.8" y1="649.8" x2="38.8" y2="652.4" stroke="#1e1e1e" stroke-width="1.1"/>
<text x="38.8" y="662.25" font-size="9" text-anchor="middle" textLength="4.3" lengthAdjust="spacingAndGlyphs">0</text>
<line x1="82.9" y1="649.8" x2="82.9" y2="652.4" stroke="#1e1e1e" stroke-width="1.1"/>
<text x="82.9" y="662.25" font-size="9" text-anchor="middle" textLength="8.61" lengthAdjust="spacingAndGlyphs">30</text>
<line x1="127.7" y1="649.8" x2="127.7" y2="652.4" stroke="#1e1e1e" stroke-width="1.1"/>
<text x="127.7" y="662.25" font-size="9" text-anchor="middle" textLength="8.61" lengthAdjust="spacingAndGlyphs">60</text>
<text x="82.9" y="671.95" font-size="9" text-anchor="middle" textLength="28" lengthAdjust="spacingAndGlyphs">Minutes</text>
<text transform="rotate(-90 16.1 612.9)" x="16.1" y="616.4" font-size="10" text-anchor="middle" textLength="20.8" lengthAdjust="spacingAndGlyphs" fill="#3a3a3a">ng/ml</text>
<line x1="41.5" y1="563" x2="49" y2="563" stroke="#d0103a" stroke-width="1.3"/>
<path d="M45.25 560.96L47.12 564.36L43.38 564.36Z" fill="#d0103a"/>
<text x="51.7" y="565.98" font-size="8.5" textLength="17" lengthAdjust="spacingAndGlyphs">TxB2</text>
<line x1="75" y1="562.8" x2="82.3" y2="562.8" stroke="#1f5a96" stroke-width="1.3"/>
<path d="M78.65 560.76L80.69 562.8L78.65 564.84L76.61 562.8Z" fill="#1f5a96"/>
<text x="84" y="565.77" font-size="8.5" textLength="28" lengthAdjust="spacingAndGlyphs">12HETrE</text>
<line x1="41.5" y1="574.6" x2="49" y2="574.6" stroke="#3cc04a" stroke-width="1.3"/>
<rect x="43.55" y="572.9" width="3.4" height="3.4" fill="#3cc04a"/>
<text x="51.7" y="577.58" font-size="8.5" textLength="29" lengthAdjust="spacingAndGlyphs">12 HEPE</text>
<line x1="84.7" y1="574.3" x2="92" y2="574.3" stroke="#6a2a8a" stroke-width="1.3"/>
<rect x="86.65" y="572.6" width="3.4" height="3.4" fill="#6a2a8a"/>
<text x="93.8" y="577.27" font-size="8.5" textLength="31" lengthAdjust="spacingAndGlyphs">13 HODE</text>
<line x1="46.5" y1="611.8" x2="46.5" y2="644.2" stroke="#151515" stroke-width="1"/>
<line x1="44.8" y1="611.8" x2="48.2" y2="611.8" stroke="#151515" stroke-width="1"/>
<line x1="44.8" y1="644.2" x2="48.2" y2="644.2" stroke="#151515" stroke-width="1"/>
<line x1="61.2" y1="604.9" x2="61.2" y2="643.1" stroke="#151515" stroke-width="1"/>
<line x1="59.5" y1="604.9" x2="62.9" y2="604.9" stroke="#151515" stroke-width="1"/>
<line x1="59.5" y1="643.1" x2="62.9" y2="643.1" stroke="#151515" stroke-width="1"/>
<line x1="82.9" y1="603.8" x2="82.9" y2="631.3" stroke="#151515" stroke-width="1"/>
<line x1="81.2" y1="603.8" x2="84.6" y2="603.8" stroke="#151515" stroke-width="1"/>
<line x1="81.2" y1="631.3" x2="84.6" y2="631.3" stroke="#151515" stroke-width="1"/>
<line x1="127.7" y1="583.7" x2="127.7" y2="615.3" stroke="#151515" stroke-width="1"/>
<line x1="126" y1="583.7" x2="129.4" y2="583.7" stroke="#151515" stroke-width="1"/>
<line x1="126" y1="615.3" x2="129.4" y2="615.3" stroke="#151515" stroke-width="1"/>
<line x1="127.7" y1="636" x2="127.7" y2="643" stroke="#151515" stroke-width="1"/>
<line x1="126" y1="636" x2="129.4" y2="636" stroke="#151515" stroke-width="1"/>
<line x1="126" y1="643" x2="129.4" y2="643" stroke="#151515" stroke-width="1"/>
<line x1="82.9" y1="636.5" x2="82.9" y2="643.5" stroke="#151515" stroke-width="1"/>
<line x1="81.2" y1="636.5" x2="84.6" y2="636.5" stroke="#151515" stroke-width="1"/>
<line x1="81.2" y1="643.5" x2="84.6" y2="643.5" stroke="#151515" stroke-width="1"/>
<polyline points="38.8,634.6 46.5,621.5 61.2,617.2 82.9,615.3 127.7,596.3" fill="none" stroke="#6a2a8a" stroke-width="1.3" stroke-linejoin="round"/>
<rect x="37" y="632.8" width="3.6" height="3.6" fill="#6a2a8a"/>
<rect x="44.7" y="619.7" width="3.6" height="3.6" fill="#6a2a8a"/>
<rect x="59.4" y="615.4" width="3.6" height="3.6" fill="#6a2a8a"/>
<rect x="81.1" y="613.5" width="3.6" height="3.6" fill="#6a2a8a"/>
<rect x="125.9" y="594.5" width="3.6" height="3.6" fill="#6a2a8a"/>
<polyline points="38.8,644.6 46.5,624.2 61.2,622.3 82.9,619 127.7,601.6" fill="none" stroke="#3cc04a" stroke-width="1.3" stroke-linejoin="round"/>
<rect x="37" y="642.8" width="3.6" height="3.6" fill="#3cc04a"/>
<rect x="44.7" y="622.4" width="3.6" height="3.6" fill="#3cc04a"/>
<rect x="59.4" y="620.5" width="3.6" height="3.6" fill="#3cc04a"/>
<rect x="81.1" y="617.2" width="3.6" height="3.6" fill="#3cc04a"/>
<rect x="125.9" y="599.8" width="3.6" height="3.6" fill="#3cc04a"/>
<polyline points="38.8,639.7 46.5,623 61.2,625 82.9,619.7 127.7,589.8" fill="none" stroke="#1f5a96" stroke-width="1.3" stroke-linejoin="round"/>
<path d="M38.8 637.54L40.96 639.7L38.8 641.86L36.64 639.7Z" fill="#1f5a96"/>
<path d="M46.5 620.84L48.66 623L46.5 625.16L44.34 623Z" fill="#1f5a96"/>
<path d="M61.2 622.84L63.36 625L61.2 627.16L59.04 625Z" fill="#1f5a96"/>
<path d="M82.9 617.54L85.06 619.7L82.9 621.86L80.74 619.7Z" fill="#1f5a96"/>
<path d="M127.7 587.64L129.86 589.8L127.7 591.96L125.54 589.8Z" fill="#1f5a96"/>
<polyline points="38.8,635.7 46.5,640 61.2,638.9 82.9,640 127.7,639.6" fill="none" stroke="#d0103a" stroke-width="1.3" stroke-linejoin="round"/>
<path d="M38.8 633.54L40.78 637.14L36.82 637.14Z" fill="#d0103a"/>
<path d="M46.5 637.84L48.48 641.44L44.52 641.44Z" fill="#d0103a"/>
<path d="M61.2 636.74L63.18 640.34L59.22 640.34Z" fill="#d0103a"/>
<path d="M82.9 637.84L84.88 641.44L80.92 641.44Z" fill="#d0103a"/>
<path d="M127.7 637.44L129.68 641.04L125.72 641.04Z" fill="#d0103a"/>
<path d="M132.5 590.7L132.5 589.2M132.5 590.7L133.93 590.24M132.5 590.7L133.38 591.91M132.5 590.7L131.62 591.91M132.5 590.7L131.07 590.24" stroke="#222" stroke-width="0.85" stroke-linecap="round"/>
<path d="M136.1 590.7L136.1 589.2M136.1 590.7L137.53 590.24M136.1 590.7L136.98 591.91M136.1 590.7L135.22 591.91M136.1 590.7L134.67 590.24" stroke="#222" stroke-width="0.85" stroke-linecap="round"/>
<path d="M133.5 596.3L133.5 594.8M133.5 596.3L134.93 595.84M133.5 596.3L134.38 597.51M133.5 596.3L132.62 597.51M133.5 596.3L132.07 595.84" stroke="#222" stroke-width="0.85" stroke-linecap="round"/>
<path d="M133.5 602.2L133.5 600.7M133.5 602.2L134.93 601.74M133.5 602.2L134.38 603.41M133.5 602.2L132.62 603.41M133.5 602.2L132.07 601.74" stroke="#222" stroke-width="0.85" stroke-linecap="round"/>
<text x="172.2" y="15.2" font-size="11.2" font-weight="bold" fill="#000" stroke="#000" stroke-width="0.25">C</text>
<circle cx="183.4" cy="28.1" r="1.5" fill="#124f8c"/>
<text x="187.7" y="31.01" font-size="8.3" textLength="52.3" lengthAdjust="spacingAndGlyphs">Resting platelet</text>
<circle cx="183.4" cy="38.2" r="1.5" fill="#2fb84a"/>
<text x="187.7" y="41.11" font-size="8.3" textLength="66.3" lengthAdjust="spacingAndGlyphs">Resting supernatant</text>
<circle cx="265.5" cy="28.4" r="1.5" fill="#cf0d30"/>
<text x="269.6" y="31.3" font-size="8.3" textLength="25" lengthAdjust="spacingAndGlyphs">Platelet</text>
<circle cx="265.5" cy="38.5" r="1.5" fill="#5a1a78"/>
<text x="269.6" y="41.41" font-size="8.3" textLength="28.2" lengthAdjust="spacingAndGlyphs">Supernt.</text>
<circle cx="308.4" cy="33" r="1.5" fill="#ff9410"/>
<text x="312.8" y="31.3" font-size="8.3" textLength="44.5" lengthAdjust="spacingAndGlyphs">Supernt. with</text>
<text x="312.8" y="41.41" font-size="8.3" textLength="44.5" lengthAdjust="spacingAndGlyphs">IP-antagonist</text>
<line x1="199.5" y1="52.5" x2="199.5" y2="135.1" stroke="#1e1e1e" stroke-width="1.1"/>
<line x1="196.9" y1="56.3" x2="199.5" y2="56.3" stroke="#1e1e1e" stroke-width="1.1"/>
<text x="194.2" y="59.66" font-size="9.6" text-anchor="end" textLength="8.97" lengthAdjust="spacingAndGlyphs">20</text>
<line x1="196.9" y1="95.45" x2="199.5" y2="95.45" stroke="#1e1e1e" stroke-width="1.1"/>
<text x="194.2" y="98.81" font-size="9.6" text-anchor="end" textLength="8.97" lengthAdjust="spacingAndGlyphs">10</text>
<line x1="196.9" y1="134.6" x2="199.5" y2="134.6" stroke="#1e1e1e" stroke-width="1.1"/>
<text x="194.2" y="137.96" font-size="9.6" text-anchor="end" textLength="4.48" lengthAdjust="spacingAndGlyphs">0</text>
<text transform="rotate(-90 176.85 93)" x="176.85" y="96.25" font-size="9.3" text-anchor="middle" textLength="58.7" lengthAdjust="spacingAndGlyphs">12-HETrE (ng/mL)</text>
<line x1="199" y1="134.6" x2="360" y2="134.6" stroke="#1e1e1e" stroke-width="1.1"/>
<line x1="232.1" y1="50.6" x2="232.1" y2="130.6" stroke="#1e1e1e" stroke-width="0.9"/>
<path d="M232.1 50.6L345.4 50.6L345.4 81.3" fill="none" stroke="#1e1e1e" stroke-width="0.9"/>
<path d="M232.1 64.4L288.3 64.4L288.3 99.5" fill="none" stroke="#1e1e1e" stroke-width="0.9"/>
<path d="M232.1 87.7L272.8 87.7L272.8 111" fill="none" stroke="#1e1e1e" stroke-width="0.9"/>
<path d="M212.7 105.5L212.7 101.5L254.3 101.5L254.3 105.5" fill="none" stroke="#1e1e1e" stroke-width="0.9"/>
<path d="M327.2 89.6L327.2 86.2L345.4 86.2L345.4 89.6" fill="none" stroke="#1e1e1e" stroke-width="0.9"/>
<path d="M252.65 67L252.65 65.95M252.65 67L253.65 66.68M252.65 67L253.27 67.85M252.65 67L252.03 67.85M252.65 67L251.65 66.68" stroke="#222" stroke-width="0.85" stroke-linecap="round"/>
<path d="M255.35 67L255.35 65.95M255.35 67L256.35 66.68M255.35 67L255.97 67.85M255.35 67L254.73 67.85M255.35 67L254.35 66.68" stroke="#222" stroke-width="0.85" stroke-linecap="round"/>
<path d="M252.5 91.5L252.5 90.45M252.5 91.5L253.5 91.18M252.5 91.5L253.12 92.35M252.5 91.5L251.88 92.35M252.5 91.5L251.5 91.18" stroke="#222" stroke-width="0.85" stroke-linecap="round"/>
<path d="M252.15 108.8L252.15 107.75M252.15 108.8L253.15 108.48M252.15 108.8L252.77 109.65M252.15 108.8L251.53 109.65M252.15 108.8L251.15 108.48" stroke="#222" stroke-width="0.85" stroke-linecap="round"/>
<path d="M254.85 108.8L254.85 107.75M254.85 108.8L255.85 108.48M254.85 108.8L255.47 109.65M254.85 108.8L254.23 109.65M254.85 108.8L253.85 108.48" stroke="#222" stroke-width="0.85" stroke-linecap="round"/>
<path d="M335.8 53.8L335.8 52.75M335.8 53.8L336.8 53.48M335.8 53.8L336.42 54.65M335.8 53.8L335.18 54.65M335.8 53.8L334.8 53.48" stroke="#222" stroke-width="0.85" stroke-linecap="round"/>
<path d="M337.1 90.4L337.1 89.35M337.1 90.4L338.1 90.08M337.1 90.4L337.72 91.25M337.1 90.4L336.48 91.25M337.1 90.4L336.1 90.08" stroke="#222" stroke-width="0.85" stroke-linecap="round"/>
<rect x="207.3" y="132.7" width="12.9" height="1.9" fill="#8aabcb"/>
<circle cx="208.75" cy="132.5" r="1.6" fill="#124f8c"/>
<circle cx="210.75" cy="132" r="1.6" fill="#124f8c"/>
<circle cx="212.75" cy="131.5" r="1.6" fill="#124f8c"/>
<circle cx="214.75" cy="133" r="1.6" fill="#124f8c"/>
<circle cx="216.75" cy="132.2" r="1.6" fill="#124f8c"/>
<circle cx="218.75" cy="131.8" r="1.6" fill="#124f8c"/>
<circle cx="213.75" cy="132.8" r="1.6" fill="#124f8c"/>
<circle cx="213.75" cy="127.7" r="1.6" fill="#124f8c"/>
<circle cx="215.75" cy="130.5" r="1.6" fill="#124f8c"/>
<rect x="224.5" y="133.2" width="14" height="1.4" fill="#a3dea9"/>
<circle cx="225.5" cy="130.6" r="1.6" fill="#2fb84a"/>
<circle cx="227.5" cy="132.5" r="1.6" fill="#2fb84a"/>
<circle cx="229.5" cy="132.3" r="1.6" fill="#2fb84a"/>
<circle cx="231.5" cy="132.6" r="1.6" fill="#2fb84a"/>
<circle cx="233.5" cy="132.4" r="1.6" fill="#2fb84a"/>
<circle cx="235.5" cy="132.5" r="1.6" fill="#2fb84a"/>
<circle cx="237.5" cy="131.8" r="1.6" fill="#2fb84a"/>
<rect x="245.7" y="124.2" width="14.1" height="10.4" fill="#e2889a"/>
<circle cx="253.25" cy="111.9" r="1.6" fill="#cf0d30"/>
<circle cx="251.75" cy="115.8" r="1.6" fill="#cf0d30"/>
<circle cx="249.75" cy="119.6" r="1.6" fill="#cf0d30"/>
<circle cx="255.75" cy="119.6" r="1.6" fill="#cf0d30"/>
<circle cx="252.75" cy="122.9" r="1.6" fill="#cf0d30"/>
<circle cx="247.75" cy="126.7" r="1.6" fill="#cf0d30"/>
<circle cx="257.75" cy="126.7" r="1.6" fill="#cf0d30"/>
<circle cx="246.75" cy="130.6" r="1.6" fill="#cf0d30"/>
<circle cx="250.75" cy="130.6" r="1.6" fill="#cf0d30"/>
<circle cx="254.75" cy="130.6" r="1.6" fill="#cf0d30"/>
<circle cx="258.75" cy="130.6" r="1.6" fill="#cf0d30"/>
<line x1="252.75" y1="121" x2="252.75" y2="127" stroke="#151515" stroke-width="1.05"/>
<line x1="250.5" y1="121" x2="255" y2="121" stroke="#151515" stroke-width="1.05"/>
<line x1="250.5" y1="127" x2="255" y2="127" stroke="#151515" stroke-width="1.05"/>
<rect x="264.2" y="123.2" width="13.6" height="11.4" fill="#a88fbb"/>
<circle cx="271" cy="97.5" r="1.6" fill="#5a1a78"/>
<circle cx="271" cy="103.2" r="1.6" fill="#5a1a78"/>
<circle cx="267" cy="124" r="1.6" fill="#5a1a78"/>
<circle cx="274" cy="126.5" r="1.6" fill="#5a1a78"/>
<circle cx="269" cy="128" r="1.6" fill="#5a1a78"/>
<circle cx="276" cy="129.5" r="1.6" fill="#5a1a78"/>
<circle cx="266" cy="131" r="1.6" fill="#5a1a78"/>
<circle cx="272" cy="132" r="1.6" fill="#5a1a78"/>
<circle cx="271" cy="127" r="1.6" fill="#5a1a78"/>
<line x1="271" y1="118.5" x2="271" y2="128" stroke="#151515" stroke-width="1.05"/>
<line x1="268.75" y1="118.5" x2="273.25" y2="118.5" stroke="#151515" stroke-width="1.05"/>
<line x1="268.75" y1="128" x2="273.25" y2="128" stroke="#151515" stroke-width="1.05"/>
<rect x="281.2" y="115.3" width="14.3" height="19.3" fill="#fdc47c"/>
<circle cx="288.35" cy="61.5" r="1.6" fill="#ff9410"/>
<circle cx="288.35" cy="106" r="1.6" fill="#ff9410"/>
<circle cx="283.35" cy="121.7" r="1.6" fill="#ff9410"/>
<circle cx="293.35" cy="121.7" r="1.6" fill="#ff9410"/>
<circle cx="285.35" cy="127" r="1.6" fill="#ff9410"/>
<circle cx="290.35" cy="128" r="1.6" fill="#ff9410"/>
<circle cx="294.35" cy="127" r="1.6" fill="#ff9410"/>
<circle cx="283.35" cy="131.5" r="1.6" fill="#ff9410"/>
<circle cx="291.35" cy="131.5" r="1.6" fill="#ff9410"/>
<line x1="288.35" y1="108.5" x2="288.35" y2="122" stroke="#151515" stroke-width="1.05"/>
<line x1="286.1" y1="108.5" x2="290.6" y2="108.5" stroke="#151515" stroke-width="1.05"/>
<line x1="286.1" y1="122" x2="290.6" y2="122" stroke="#151515" stroke-width="1.05"/>
<rect x="302.5" y="129.6" width="14.5" height="5" fill="#e2889a"/>
<circle cx="309.75" cy="119.2" r="1.6" fill="#cf0d30"/>
<circle cx="303.75" cy="131.5" r="1.6" fill="#cf0d30"/>
<circle cx="305.75" cy="131.8" r="1.6" fill="#cf0d30"/>
<circle cx="307.75" cy="132" r="1.6" fill="#cf0d30"/>
<circle cx="309.75" cy="131.5" r="1.6" fill="#cf0d30"/>
<circle cx="311.75" cy="132" r="1.6" fill="#cf0d30"/>
<circle cx="313.75" cy="131.2" r="1.6" fill="#cf0d30"/>
<circle cx="315.75" cy="132.2" r="1.6" fill="#cf0d30"/>
<line x1="309.75" y1="128" x2="309.75" y2="132.5" stroke="#151515" stroke-width="1.05"/>
<line x1="307.5" y1="128" x2="312" y2="128" stroke="#151515" stroke-width="1.05"/>
<line x1="307.5" y1="132.5" x2="312" y2="132.5" stroke="#151515" stroke-width="1.05"/>
<rect x="320" y="132.2" width="15" height="2.4" fill="#a88fbb"/>
<circle cx="322.5" cy="130.3" r="1.6" fill="#5a1a78"/>
<circle cx="323.5" cy="132.5" r="1.6" fill="#5a1a78"/>
<circle cx="325.5" cy="132.2" r="1.6" fill="#5a1a78"/>
<circle cx="327.5" cy="132.6" r="1.6" fill="#5a1a78"/>
<circle cx="329.5" cy="132.4" r="1.6" fill="#5a1a78"/>
<circle cx="331.5" cy="132.5" r="1.6" fill="#5a1a78"/>
<circle cx="333.5" cy="132.3" r="1.6" fill="#5a1a78"/>
<rect x="338.7" y="123.3" width="13.8" height="11.3" fill="#fdc47c"/>
<circle cx="344.6" cy="93.3" r="1.6" fill="#ff9410"/>
<circle cx="342.6" cy="111.2" r="1.6" fill="#ff9410"/>
<circle cx="348.6" cy="111.2" r="1.6" fill="#ff9410"/>
<circle cx="340.6" cy="127.5" r="1.6" fill="#ff9410"/>
<circle cx="349.6" cy="130" r="1.6" fill="#ff9410"/>
<circle cx="343.6" cy="131.5" r="1.6" fill="#ff9410"/>
<circle cx="347.6" cy="131" r="1.6" fill="#ff9410"/>
<circle cx="351.6" cy="132.3" r="1.6" fill="#ff9410"/>
<circle cx="339.6" cy="131.2" r="1.6" fill="#ff9410"/>
<line x1="345.6" y1="118.5" x2="345.6" y2="128.1" stroke="#151515" stroke-width="1.05"/>
<line x1="343.35" y1="118.5" x2="347.85" y2="118.5" stroke="#151515" stroke-width="1.05"/>
<line x1="343.35" y1="128.1" x2="347.85" y2="128.1" stroke="#151515" stroke-width="1.05"/>
<line x1="250" y1="140" x2="290.8" y2="140" stroke="#1e1e1e" stroke-width="1.2"/>
<path d="M246.2 140L250.5 137.8L250.5 142.2Z" fill="#1e1e1e"/>
<path d="M294.6 140L290.3 137.8L290.3 142.2Z" fill="#1e1e1e"/>
<line x1="308.7" y1="140" x2="349.5" y2="140" stroke="#1e1e1e" stroke-width="1.2"/>
<path d="M304.9 140L309.2 137.8L309.2 142.2Z" fill="#1e1e1e"/>
<path d="M353.3 140L349 137.8L349 142.2Z" fill="#1e1e1e"/>
<text x="243.7" y="151.95" font-size="9" textLength="53.2" lengthAdjust="spacingAndGlyphs">CXCR7-agonist</text>
<text x="257.5" y="161.45" font-size="9" textLength="26.5" lengthAdjust="spacingAndGlyphs">30 mins</text>
<text x="302.5" y="151.95" font-size="9" textLength="53.2" lengthAdjust="spacingAndGlyphs">CXCR7-agonist</text>
<text x="315.9" y="161.45" font-size="9" textLength="26.5" lengthAdjust="spacingAndGlyphs">60 mins</text>
<text x="367.3" y="14.7" font-size="11.2" font-weight="bold" fill="#000" stroke="#000" stroke-width="0.25">Di</text>
<circle cx="381.1" cy="24.5" r="1.5" fill="#124f8c"/>
<text x="385.6" y="27.41" font-size="8.3" textLength="24.6" lengthAdjust="spacingAndGlyphs">Resting</text>
<circle cx="381.1" cy="33.5" r="1.5" fill="#2fb84a"/>
<text x="385.6" y="36.41" font-size="8.3" textLength="15" lengthAdjust="spacingAndGlyphs">CRP</text>
<circle cx="381.1" cy="44.1" r="1.5" fill="#5a1a78"/>
<text x="385.6" y="47.01" font-size="8.3" textLength="18" lengthAdjust="spacingAndGlyphs">TRAP</text>
<circle cx="410.7" cy="33.5" r="1.5" fill="#cf0d30"/>
<text x="415" y="36.41" font-size="8.3" textLength="94" lengthAdjust="spacingAndGlyphs">IP(i) + CXCR7 agonist + CRP</text>
<circle cx="410.7" cy="44.1" r="1.5" fill="#ff9410"/>
<text x="415" y="47.01" font-size="8.3" textLength="98" lengthAdjust="spacingAndGlyphs">IP(i) + CXCR7 agonist + TRAP</text>
<line x1="393.6" y1="53.7" x2="393.6" y2="136" stroke="#1e1e1e" stroke-width="1.1"/>
<line x1="391" y1="58.3" x2="393.6" y2="58.3" stroke="#1e1e1e" stroke-width="1.1"/>
<text x="388.3" y="61.66" font-size="9.6" text-anchor="end" textLength="8.97" lengthAdjust="spacingAndGlyphs">40</text>
<line x1="391" y1="77.7" x2="393.6" y2="77.7" stroke="#1e1e1e" stroke-width="1.1"/>
<text x="388.3" y="81.06" font-size="9.6" text-anchor="end" textLength="8.97" lengthAdjust="spacingAndGlyphs">30</text>
<line x1="391" y1="97.1" x2="393.6" y2="97.1" stroke="#1e1e1e" stroke-width="1.1"/>
<text x="388.3" y="100.46" font-size="9.6" text-anchor="end" textLength="8.97" lengthAdjust="spacingAndGlyphs">20</text>
<line x1="391" y1="116.6" x2="393.6" y2="116.6" stroke="#1e1e1e" stroke-width="1.1"/>
<text x="388.3" y="119.96" font-size="9.6" text-anchor="end" textLength="8.97" lengthAdjust="spacingAndGlyphs">10</text>
<line x1="391" y1="135.5" x2="393.6" y2="135.5" stroke="#1e1e1e" stroke-width="1.1"/>
<text x="388.3" y="138.86" font-size="9.6" text-anchor="end" textLength="4.48" lengthAdjust="spacingAndGlyphs">0</text>
<text transform="rotate(-90 370.9 94)" x="370.9" y="97.43" font-size="9.8" text-anchor="middle" textLength="39.8" lengthAdjust="spacingAndGlyphs">PAC-1 (MFI)</text>
<line x1="393" y1="135.5" x2="512" y2="135.5" stroke="#1e1e1e" stroke-width="1.1"/>
<rect x="398.2" y="125.83" width="7.4" height="9.67" fill="#8aabcb"/>
<circle cx="402.38" cy="119.05" r="1.6" fill="#124f8c"/>
<circle cx="401.43" cy="120.99" r="1.6" fill="#124f8c"/>
<circle cx="402.42" cy="122.92" r="1.6" fill="#124f8c"/>
<circle cx="399.94" cy="124.86" r="1.6" fill="#124f8c"/>
<circle cx="403.99" cy="125.83" r="1.6" fill="#124f8c"/>
<circle cx="404.06" cy="126.79" r="1.6" fill="#124f8c"/>
<circle cx="402.92" cy="127.76" r="1.6" fill="#124f8c"/>
<circle cx="399.64" cy="128.73" r="1.6" fill="#124f8c"/>
<circle cx="402.04" cy="123.89" r="1.6" fill="#124f8c"/>
<circle cx="400.75" cy="125.83" r="1.6" fill="#124f8c"/>
<rect x="407.7" y="96.8" width="7.4" height="38.7" fill="#a3dea9"/>
<circle cx="411.08" cy="65.84" r="1.6" fill="#2fb84a"/>
<circle cx="411.8" cy="73.58" r="1.6" fill="#2fb84a"/>
<circle cx="414.23" cy="82.29" r="1.6" fill="#2fb84a"/>
<circle cx="411.17" cy="83.25" r="1.6" fill="#2fb84a"/>
<circle cx="411.45" cy="96.8" r="1.6" fill="#2fb84a"/>
<circle cx="411.98" cy="100.67" r="1.6" fill="#2fb84a"/>
<circle cx="409.3" cy="103.57" r="1.6" fill="#2fb84a"/>
<circle cx="411.48" cy="112.28" r="1.6" fill="#2fb84a"/>
<circle cx="412.27" cy="114.22" r="1.6" fill="#2fb84a"/>
<circle cx="413.35" cy="115.18" r="1.6" fill="#2fb84a"/>
<circle cx="408.7" cy="116.15" r="1.6" fill="#2fb84a"/>
<line x1="411.4" y1="91" x2="411.4" y2="102.6" stroke="#151515" stroke-width="1.05"/>
<line x1="409.36" y1="91" x2="413.44" y2="91" stroke="#151515" stroke-width="1.05"/>
<line x1="409.36" y1="102.6" x2="413.44" y2="102.6" stroke="#151515" stroke-width="1.05"/>
<rect x="417.2" y="97.77" width="7.5" height="37.73" fill="#a88fbb"/>
<circle cx="420.78" cy="83.25" r="1.6" fill="#5a1a78"/>
<circle cx="422.01" cy="83.25" r="1.6" fill="#5a1a78"/>
<circle cx="422.07" cy="86.16" r="1.6" fill="#5a1a78"/>
<circle cx="418.54" cy="87.12" r="1.6" fill="#5a1a78"/>
<circle cx="417.65" cy="91.96" r="1.6" fill="#5a1a78"/>
<circle cx="420.1" cy="102.6" r="1.6" fill="#5a1a78"/>
<circle cx="419.42" cy="114.22" r="1.6" fill="#5a1a78"/>
<circle cx="423.04" cy="115.18" r="1.6" fill="#5a1a78"/>
<circle cx="422.24" cy="115.18" r="1.6" fill="#5a1a78"/>
<circle cx="421.63" cy="119.05" r="1.6" fill="#5a1a78"/>
<line x1="420.95" y1="91.96" x2="420.95" y2="103.57" stroke="#151515" stroke-width="1.05"/>
<line x1="418.89" y1="91.96" x2="423.01" y2="91.96" stroke="#151515" stroke-width="1.05"/>
<line x1="418.89" y1="103.57" x2="423.01" y2="103.57" stroke="#151515" stroke-width="1.05"/>
<rect x="429.3" y="124.86" width="7.5" height="10.64" fill="#8aabcb"/>
<circle cx="431.42" cy="120.02" r="1.6" fill="#124f8c"/>
<circle cx="434.3" cy="120.99" r="1.6" fill="#124f8c"/>
<circle cx="434.29" cy="121.95" r="1.6" fill="#124f8c"/>
<circle cx="435.41" cy="123.89" r="1.6" fill="#124f8c"/>
<circle cx="430.93" cy="124.86" r="1.6" fill="#124f8c"/>
<circle cx="431.23" cy="125.83" r="1.6" fill="#124f8c"/>
<circle cx="430.67" cy="126.79" r="1.6" fill="#124f8c"/>
<circle cx="431.19" cy="127.76" r="1.6" fill="#124f8c"/>
<circle cx="434.63" cy="128.73" r="1.6" fill="#124f8c"/>
<rect x="438.8" y="120.02" width="7.5" height="15.48" fill="#a3dea9"/>
<circle cx="439.9" cy="107.44" r="1.6" fill="#2fb84a"/>
<circle cx="443.92" cy="114.22" r="1.6" fill="#2fb84a"/>
<circle cx="443.58" cy="118.09" r="1.6" fill="#2fb84a"/>
<circle cx="445.52" cy="120.02" r="1.6" fill="#2fb84a"/>
<circle cx="441.01" cy="120.99" r="1.6" fill="#2fb84a"/>
<circle cx="440.9" cy="121.95" r="1.6" fill="#2fb84a"/>
<circle cx="444.13" cy="123.89" r="1.6" fill="#2fb84a"/>
<circle cx="443.62" cy="124.86" r="1.6" fill="#2fb84a"/>
<circle cx="441.22" cy="125.83" r="1.6" fill="#2fb84a"/>
<circle cx="443.79" cy="126.79" r="1.6" fill="#2fb84a"/>
<line x1="442.55" y1="118.09" x2="442.55" y2="121.95" stroke="#151515" stroke-width="1.05"/>
<line x1="440.49" y1="118.09" x2="444.61" y2="118.09" stroke="#151515" stroke-width="1.05"/>
<line x1="440.49" y1="121.95" x2="444.61" y2="121.95" stroke="#151515" stroke-width="1.05"/>
<rect x="448.4" y="120.99" width="7.4" height="14.51" fill="#a88fbb"/>
<circle cx="455.2" cy="111.31" r="1.6" fill="#5a1a78"/>
<circle cx="448.85" cy="114.22" r="1.6" fill="#5a1a78"/>
<circle cx="453.67" cy="115.18" r="1.6" fill="#5a1a78"/>
<circle cx="449.82" cy="117.12" r="1.6" fill="#5a1a78"/>
<circle cx="455.34" cy="120.02" r="1.6" fill="#5a1a78"/>
<circle cx="448.88" cy="121.95" r="1.6" fill="#5a1a78"/>
<circle cx="454.63" cy="124.86" r="1.6" fill="#5a1a78"/>
<circle cx="453.31" cy="126.79" r="1.6" fill="#5a1a78"/>
<circle cx="454.48" cy="128.73" r="1.6" fill="#5a1a78"/>
<line x1="452.1" y1="119.05" x2="452.1" y2="122.92" stroke="#151515" stroke-width="1.05"/>
<line x1="450.06" y1="119.05" x2="454.14" y2="119.05" stroke="#151515" stroke-width="1.05"/>
<line x1="450.06" y1="122.92" x2="454.14" y2="122.92" stroke="#151515" stroke-width="1.05"/>
<rect x="460.4" y="128.15" width="7.4" height="7.35" fill="#8aabcb"/>
<circle cx="463.18" cy="122.92" r="1.6" fill="#124f8c"/>
<circle cx="463.97" cy="124.86" r="1.6" fill="#124f8c"/>
<circle cx="463.55" cy="125.83" r="1.6" fill="#124f8c"/>
<circle cx="463.75" cy="126.79" r="1.6" fill="#124f8c"/>
<circle cx="463.5" cy="127.76" r="1.6" fill="#124f8c"/>
<circle cx="465.15" cy="128.73" r="1.6" fill="#124f8c"/>
<circle cx="462.49" cy="128.73" r="1.6" fill="#124f8c"/>
<circle cx="465" cy="129.69" r="1.6" fill="#124f8c"/>
<rect x="470" y="99.9" width="7.2" height="35.6" fill="#a88fbb"/>
<circle cx="473.74" cy="83.25" r="1.6" fill="#5a1a78"/>
<circle cx="475.59" cy="86.16" r="1.6" fill="#5a1a78"/>
<circle cx="476.58" cy="91" r="1.6" fill="#5a1a78"/>
<circle cx="472.24" cy="93.9" r="1.6" fill="#5a1a78"/>
<circle cx="475.32" cy="98.73" r="1.6" fill="#5a1a78"/>
<circle cx="474.92" cy="100.67" r="1.6" fill="#5a1a78"/>
<circle cx="474.65" cy="102.6" r="1.6" fill="#5a1a78"/>
<circle cx="471.07" cy="103.57" r="1.6" fill="#5a1a78"/>
<circle cx="470.53" cy="105.51" r="1.6" fill="#5a1a78"/>
<circle cx="472.85" cy="110.34" r="1.6" fill="#5a1a78"/>
<line x1="473.6" y1="95.83" x2="473.6" y2="103.57" stroke="#151515" stroke-width="1.05"/>
<line x1="471.62" y1="95.83" x2="475.58" y2="95.83" stroke="#151515" stroke-width="1.05"/>
<line x1="471.62" y1="103.57" x2="475.58" y2="103.57" stroke="#151515" stroke-width="1.05"/>
<rect x="479.7" y="102.22" width="7.2" height="33.28" fill="#a88fbb"/>
<circle cx="481.23" cy="91.96" r="1.6" fill="#5a1a78"/>
<circle cx="484.35" cy="93.9" r="1.6" fill="#5a1a78"/>
<circle cx="482.23" cy="99.7" r="1.6" fill="#5a1a78"/>
<circle cx="481.34" cy="100.67" r="1.6" fill="#5a1a78"/>
<circle cx="483.23" cy="101.64" r="1.6" fill="#5a1a78"/>
<circle cx="483.26" cy="102.6" r="1.6" fill="#5a1a78"/>
<circle cx="483.17" cy="103.57" r="1.6" fill="#5a1a78"/>
<circle cx="483.03" cy="104.54" r="1.6" fill="#5a1a78"/>
<circle cx="481.77" cy="105.51" r="1.6" fill="#5a1a78"/>
<line x1="483.3" y1="100.09" x2="483.3" y2="104.54" stroke="#151515" stroke-width="1.05"/>
<line x1="481.32" y1="100.09" x2="485.28" y2="100.09" stroke="#151515" stroke-width="1.05"/>
<line x1="481.32" y1="104.54" x2="485.28" y2="104.54" stroke="#151515" stroke-width="1.05"/>
<rect x="489.2" y="101.06" width="7.4" height="34.44" fill="#e2889a"/>
<circle cx="494.08" cy="83.25" r="1.6" fill="#cf0d30"/>
<circle cx="494.8" cy="94.87" r="1.6" fill="#cf0d30"/>
<circle cx="493.04" cy="99.7" r="1.6" fill="#cf0d30"/>
<circle cx="492.98" cy="101.64" r="1.6" fill="#cf0d30"/>
<circle cx="492.19" cy="102.6" r="1.6" fill="#cf0d30"/>
<circle cx="496.21" cy="104.54" r="1.6" fill="#cf0d30"/>
<circle cx="491.5" cy="105.51" r="1.6" fill="#cf0d30"/>
<circle cx="490.56" cy="107.44" r="1.6" fill="#cf0d30"/>
<circle cx="491.31" cy="111.31" r="1.6" fill="#cf0d30"/>
<line x1="492.9" y1="99.12" x2="492.9" y2="103.57" stroke="#151515" stroke-width="1.05"/>
<line x1="490.86" y1="99.12" x2="494.94" y2="99.12" stroke="#151515" stroke-width="1.05"/>
<line x1="490.86" y1="103.57" x2="494.94" y2="103.57" stroke="#151515" stroke-width="1.05"/>
<rect x="499.2" y="102.22" width="7.3" height="33.28" fill="#fdc47c"/>
<circle cx="505.52" cy="83.25" r="1.6" fill="#ff9410"/>
<circle cx="504.07" cy="94.87" r="1.6" fill="#ff9410"/>
<circle cx="504.6" cy="100.67" r="1.6" fill="#ff9410"/>
<circle cx="505.51" cy="101.64" r="1.6" fill="#ff9410"/>
<circle cx="501.27" cy="102.6" r="1.6" fill="#ff9410"/>
<circle cx="503.74" cy="103.57" r="1.6" fill="#ff9410"/>
<circle cx="505.51" cy="106.47" r="1.6" fill="#ff9410"/>
<circle cx="505.29" cy="110.34" r="1.6" fill="#ff9410"/>
<circle cx="503.33" cy="111.31" r="1.6" fill="#ff9410"/>
<line x1="502.85" y1="99.7" x2="502.85" y2="104.54" stroke="#151515" stroke-width="1.05"/>
<line x1="500.84" y1="99.7" x2="504.86" y2="99.7" stroke="#151515" stroke-width="1.05"/>
<line x1="500.84" y1="104.54" x2="504.86" y2="104.54" stroke="#151515" stroke-width="1.05"/>
<path d="M441.8 97.6L441.8 56.2L491.2 56.2L491.2 76.9" fill="none" stroke="#1e1e1e" stroke-width="0.9"/>
<path d="M453.2 102.8L453.2 61.1L502.8 61.1L502.8 81.5" fill="none" stroke="#1e1e1e" stroke-width="0.9"/>
<path d="M461.55 58.9L461.55 57.5M461.55 58.9L462.88 58.47M461.55 58.9L462.37 60.03M461.55 58.9L460.73 60.03M461.55 58.9L460.22 58.47" stroke="#222" stroke-width="0.85" stroke-linecap="round"/>
<path d="M464.65 58.9L464.65 57.5M464.65 58.9L465.98 58.47M464.65 58.9L465.47 60.03M464.65 58.9L463.83 60.03M464.65 58.9L463.32 58.47" stroke="#222" stroke-width="0.85" stroke-linecap="round"/>
<path d="M467.75 58.9L467.75 57.5M467.75 58.9L469.08 58.47M467.75 58.9L468.57 60.03M467.75 58.9L466.93 60.03M467.75 58.9L466.42 58.47" stroke="#222" stroke-width="0.85" stroke-linecap="round"/>
<path d="M470.85 58.9L470.85 57.5M470.85 58.9L472.18 58.47M470.85 58.9L471.67 60.03M470.85 58.9L470.03 60.03M470.85 58.9L469.52 58.47" stroke="#222" stroke-width="0.85" stroke-linecap="round"/>
<path d="M474.55 65.8L474.55 64.4M474.55 65.8L475.88 65.37M474.55 65.8L475.37 66.93M474.55 65.8L473.73 66.93M474.55 65.8L473.22 65.37" stroke="#222" stroke-width="0.85" stroke-linecap="round"/>
<path d="M477.65 65.8L477.65 64.4M477.65 65.8L478.98 65.37M477.65 65.8L478.47 66.93M477.65 65.8L476.83 66.93M477.65 65.8L476.32 65.37" stroke="#222" stroke-width="0.85" stroke-linecap="round"/>
<path d="M480.75 65.8L480.75 64.4M480.75 65.8L482.08 65.37M480.75 65.8L481.57 66.93M480.75 65.8L479.93 66.93M480.75 65.8L479.42 65.37" stroke="#222" stroke-width="0.85" stroke-linecap="round"/>
<path d="M483.85 65.8L483.85 64.4M483.85 65.8L485.18 65.37M483.85 65.8L484.67 66.93M483.85 65.8L483.03 66.93M483.85 65.8L482.52 65.37" stroke="#222" stroke-width="0.85" stroke-linecap="round"/>
<line x1="401.3" y1="142" x2="423.2" y2="142" stroke="#1e1e1e" stroke-width="1.2"/>
<path d="M397.5 142L401.8 139.8L401.8 144.2Z" fill="#1e1e1e"/>
<path d="M427 142L422.7 139.8L422.7 144.2Z" fill="#1e1e1e"/>
<line x1="433.8" y1="142" x2="453.7" y2="142" stroke="#1e1e1e" stroke-width="1.2"/>
<path d="M430 142L434.3 139.8L434.3 144.2Z" fill="#1e1e1e"/>
<path d="M457.5 142L453.2 139.8L453.2 144.2Z" fill="#1e1e1e"/>
<line x1="463.8" y1="142" x2="503.2" y2="142" stroke="#1e1e1e" stroke-width="1.2"/>
<path d="M460 142L464.3 139.8L464.3 144.2Z" fill="#1e1e1e"/>
<path d="M507 142L502.7 139.8L502.7 144.2Z" fill="#1e1e1e"/>
<text x="399.1" y="154.35" font-size="9" textLength="25.8" lengthAdjust="spacingAndGlyphs">Control</text>
<text x="431.4" y="154.55" font-size="9" textLength="25.8" lengthAdjust="spacingAndGlyphs">CXCR7</text>
<text x="431.4" y="163.15" font-size="9" textLength="25.6" lengthAdjust="spacingAndGlyphs">agonist</text>
<text x="460.5" y="154.55" font-size="9" textLength="46.1" lengthAdjust="spacingAndGlyphs">IP antagonist</text>
<text x="172.7" y="211.9" font-size="11.2" font-weight="bold" fill="#000" stroke="#000" stroke-width="0.25">Dii</text>
<line x1="199.6" y1="227.3" x2="199.6" y2="317.4" stroke="#1e1e1e" stroke-width="1.1"/>
<line x1="197" y1="231.2" x2="199.6" y2="231.2" stroke="#1e1e1e" stroke-width="1.1"/>
<text x="194.3" y="234.56" font-size="9.6" text-anchor="end" textLength="8.97" lengthAdjust="spacingAndGlyphs">50</text>
<line x1="197" y1="274.05" x2="199.6" y2="274.05" stroke="#1e1e1e" stroke-width="1.1"/>
<text x="194.3" y="277.41" font-size="9.6" text-anchor="end" textLength="8.97" lengthAdjust="spacingAndGlyphs">25</text>
<line x1="197" y1="316.9" x2="199.6" y2="316.9" stroke="#1e1e1e" stroke-width="1.1"/>
<text x="194.3" y="320.26" font-size="9.6" text-anchor="end" textLength="4.48" lengthAdjust="spacingAndGlyphs">0</text>
<text transform="rotate(-90 177.5 272.3)" x="177.5" y="275.91" font-size="10.3" text-anchor="middle" textLength="43.7" lengthAdjust="spacingAndGlyphs">CD62P (MFI)</text>
<line x1="199" y1="316.9" x2="328.8" y2="316.9" stroke="#1e1e1e" stroke-width="1.1"/>
<rect x="204.6" y="313.11" width="7.7" height="3.79" fill="#8aabcb"/>
<circle cx="208.66" cy="308.28" r="1.6" fill="#124f8c"/>
<circle cx="207.31" cy="310.01" r="1.6" fill="#124f8c"/>
<circle cx="205.92" cy="310.87" r="1.6" fill="#124f8c"/>
<circle cx="209.28" cy="311.73" r="1.6" fill="#124f8c"/>
<circle cx="206.89" cy="312.59" r="1.6" fill="#124f8c"/>
<circle cx="207.14" cy="312.59" r="1.6" fill="#124f8c"/>
<circle cx="207.9" cy="313.45" r="1.6" fill="#124f8c"/>
<circle cx="209.21" cy="313.45" r="1.6" fill="#124f8c"/>
<circle cx="211.08" cy="311.73" r="1.6" fill="#124f8c"/>
<rect x="214.8" y="275.53" width="8.1" height="41.37" fill="#a3dea9"/>
<circle cx="216.08" cy="257.44" r="1.6" fill="#2fb84a"/>
<circle cx="216.65" cy="258.3" r="1.6" fill="#2fb84a"/>
<circle cx="218.24" cy="265.19" r="1.6" fill="#2fb84a"/>
<circle cx="219.89" cy="269.5" r="1.6" fill="#2fb84a"/>
<circle cx="216.8" cy="273.81" r="1.6" fill="#2fb84a"/>
<circle cx="216.65" cy="278.98" r="1.6" fill="#2fb84a"/>
<circle cx="217.33" cy="284.15" r="1.6" fill="#2fb84a"/>
<circle cx="220.31" cy="287.6" r="1.6" fill="#2fb84a"/>
<circle cx="216.85" cy="288.46" r="1.6" fill="#2fb84a"/>
<line x1="218.85" y1="264.33" x2="218.85" y2="286.74" stroke="#151515" stroke-width="1.05"/>
<line x1="216.62" y1="264.33" x2="221.08" y2="264.33" stroke="#151515" stroke-width="1.05"/>
<line x1="216.62" y1="286.74" x2="221.08" y2="286.74" stroke="#151515" stroke-width="1.05"/>
<rect x="225.4" y="255.71" width="8.5" height="61.19" fill="#a88fbb"/>
<circle cx="227.14" cy="240.2" r="1.6" fill="#5a1a78"/>
<circle cx="227.95" cy="251.4" r="1.6" fill="#5a1a78"/>
<circle cx="228.48" cy="253.13" r="1.6" fill="#5a1a78"/>
<circle cx="232.03" cy="254.85" r="1.6" fill="#5a1a78"/>
<circle cx="229.63" cy="256.57" r="1.6" fill="#5a1a78"/>
<circle cx="230.96" cy="257.44" r="1.6" fill="#5a1a78"/>
<circle cx="227.27" cy="259.16" r="1.6" fill="#5a1a78"/>
<circle cx="229.7" cy="261.74" r="1.6" fill="#5a1a78"/>
<circle cx="231.69" cy="263.47" r="1.6" fill="#5a1a78"/>
<line x1="229.65" y1="249.68" x2="229.65" y2="261.74" stroke="#151515" stroke-width="1.05"/>
<line x1="227.4" y1="249.68" x2="231.9" y2="249.68" stroke="#151515" stroke-width="1.05"/>
<line x1="227.4" y1="261.74" x2="231.9" y2="261.74" stroke="#151515" stroke-width="1.05"/>
<rect x="238.3" y="313.11" width="7.7" height="3.79" fill="#8aabcb"/>
<circle cx="242.53" cy="308.28" r="1.6" fill="#124f8c"/>
<circle cx="242.86" cy="309.14" r="1.6" fill="#124f8c"/>
<circle cx="243.86" cy="310.87" r="1.6" fill="#124f8c"/>
<circle cx="240.95" cy="311.73" r="1.6" fill="#124f8c"/>
<circle cx="242.97" cy="312.59" r="1.6" fill="#124f8c"/>
<circle cx="244.26" cy="312.59" r="1.6" fill="#124f8c"/>
<circle cx="244.35" cy="313.45" r="1.6" fill="#124f8c"/>
<circle cx="240.46" cy="311.73" r="1.6" fill="#124f8c"/>
<rect x="248.8" y="309.14" width="8.1" height="7.76" fill="#a3dea9"/>
<circle cx="253.01" cy="308.28" r="1.6" fill="#2fb84a"/>
<circle cx="253.34" cy="308.63" r="1.6" fill="#2fb84a"/>
<circle cx="254.8" cy="309.14" r="1.6" fill="#2fb84a"/>
<circle cx="255.11" cy="309.66" r="1.6" fill="#2fb84a"/>
<circle cx="255.02" cy="310.01" r="1.6" fill="#2fb84a"/>
<circle cx="252.08" cy="309.14" r="1.6" fill="#2fb84a"/>
<circle cx="255.39" cy="309.49" r="1.6" fill="#2fb84a"/>
<rect x="259.8" y="292.77" width="8.3" height="24.13" fill="#a88fbb"/>
<circle cx="264.23" cy="275.53" r="1.6" fill="#5a1a78"/>
<circle cx="265.41" cy="283.29" r="1.6" fill="#5a1a78"/>
<circle cx="265.39" cy="287.6" r="1.6" fill="#5a1a78"/>
<circle cx="266.07" cy="289.32" r="1.6" fill="#5a1a78"/>
<circle cx="262.71" cy="291.91" r="1.6" fill="#5a1a78"/>
<circle cx="266.65" cy="294.49" r="1.6" fill="#5a1a78"/>
<circle cx="264.34" cy="297.94" r="1.6" fill="#5a1a78"/>
<circle cx="265.39" cy="300.53" r="1.6" fill="#5a1a78"/>
<circle cx="265.43" cy="303.97" r="1.6" fill="#5a1a78"/>
<circle cx="266.44" cy="305.7" r="1.6" fill="#5a1a78"/>
<line x1="263.95" y1="283.29" x2="263.95" y2="302.25" stroke="#151515" stroke-width="1.05"/>
<line x1="261.7" y1="283.29" x2="266.2" y2="283.29" stroke="#151515" stroke-width="1.05"/>
<line x1="261.7" y1="302.25" x2="266.2" y2="302.25" stroke="#151515" stroke-width="1.05"/>
<rect x="273.1" y="313.11" width="7.7" height="3.79" fill="#8aabcb"/>
<circle cx="276.03" cy="304.83" r="1.6" fill="#124f8c"/>
<circle cx="279.55" cy="306.56" r="1.6" fill="#124f8c"/>
<circle cx="279.43" cy="308.28" r="1.6" fill="#124f8c"/>
<circle cx="279.2" cy="310.01" r="1.6" fill="#124f8c"/>
<circle cx="278.51" cy="311.73" r="1.6" fill="#124f8c"/>
<circle cx="278.97" cy="312.59" r="1.6" fill="#124f8c"/>
<circle cx="274.26" cy="313.45" r="1.6" fill="#124f8c"/>
<circle cx="277.63" cy="313.45" r="1.6" fill="#124f8c"/>
<circle cx="275.59" cy="311.73" r="1.6" fill="#124f8c"/>
<rect x="283.5" y="276.22" width="8.2" height="40.68" fill="#a3dea9"/>
<circle cx="288.64" cy="256.57" r="1.6" fill="#2fb84a"/>
<circle cx="285.26" cy="260.02" r="1.6" fill="#2fb84a"/>
<circle cx="288.28" cy="266.05" r="1.6" fill="#2fb84a"/>
<circle cx="289.56" cy="272.09" r="1.6" fill="#2fb84a"/>
<circle cx="289.52" cy="280.7" r="1.6" fill="#2fb84a"/>
<circle cx="287.69" cy="285.01" r="1.6" fill="#2fb84a"/>
<circle cx="288.35" cy="293.63" r="1.6" fill="#2fb84a"/>
<circle cx="286.85" cy="294.49" r="1.6" fill="#2fb84a"/>
<circle cx="287.76" cy="271.22" r="1.6" fill="#2fb84a"/>
<line x1="287.6" y1="258.64" x2="287.6" y2="293.98" stroke="#151515" stroke-width="1.05"/>
<line x1="285.35" y1="258.64" x2="289.85" y2="258.64" stroke="#151515" stroke-width="1.05"/>
<line x1="285.35" y1="293.98" x2="289.85" y2="293.98" stroke="#151515" stroke-width="1.05"/>
<rect x="294.2" y="262.61" width="8.1" height="54.29" fill="#a88fbb"/>
<circle cx="299.04" cy="253.99" r="1.6" fill="#5a1a78"/>
<circle cx="297.85" cy="257.44" r="1.6" fill="#5a1a78"/>
<circle cx="299.52" cy="260.02" r="1.6" fill="#5a1a78"/>
<circle cx="295.79" cy="261.74" r="1.6" fill="#5a1a78"/>
<circle cx="299.37" cy="263.47" r="1.6" fill="#5a1a78"/>
<circle cx="297.54" cy="265.19" r="1.6" fill="#5a1a78"/>
<circle cx="298.86" cy="266.05" r="1.6" fill="#5a1a78"/>
<circle cx="296.38" cy="268.64" r="1.6" fill="#5a1a78"/>
<circle cx="297.37" cy="270.36" r="1.6" fill="#5a1a78"/>
<line x1="298.25" y1="258.3" x2="298.25" y2="266.92" stroke="#151515" stroke-width="1.05"/>
<line x1="296.02" y1="258.3" x2="300.48" y2="258.3" stroke="#151515" stroke-width="1.05"/>
<line x1="296.02" y1="266.92" x2="300.48" y2="266.92" stroke="#151515" stroke-width="1.05"/>
<rect x="304.8" y="289.32" width="8.1" height="27.58" fill="#e2889a"/>
<circle cx="307.2" cy="272.09" r="1.6" fill="#cf0d30"/>
<circle cx="308.2" cy="273.81" r="1.6" fill="#cf0d30"/>
<circle cx="307.12" cy="275.53" r="1.6" fill="#cf0d30"/>
<circle cx="308.26" cy="291.05" r="1.6" fill="#cf0d30"/>
<circle cx="309.21" cy="294.49" r="1.6" fill="#cf0d30"/>
<circle cx="309.68" cy="296.22" r="1.6" fill="#cf0d30"/>
<circle cx="307.46" cy="298.8" r="1.6" fill="#cf0d30"/>
<circle cx="308.03" cy="301.39" r="1.6" fill="#cf0d30"/>
<circle cx="307.03" cy="303.11" r="1.6" fill="#cf0d30"/>
<line x1="308.85" y1="275.53" x2="308.85" y2="301.39" stroke="#151515" stroke-width="1.05"/>
<line x1="306.62" y1="275.53" x2="311.08" y2="275.53" stroke="#151515" stroke-width="1.05"/>
<line x1="306.62" y1="301.39" x2="311.08" y2="301.39" stroke="#151515" stroke-width="1.05"/>
<rect x="315.8" y="276.4" width="8" height="40.5" fill="#fdc47c"/>
<circle cx="319.57" cy="265.19" r="1.6" fill="#ff9410"/>
<circle cx="321.92" cy="268.64" r="1.6" fill="#ff9410"/>
<circle cx="317.18" cy="270.36" r="1.6" fill="#ff9410"/>
<circle cx="318.58" cy="272.95" r="1.6" fill="#ff9410"/>
<circle cx="322.39" cy="274.67" r="1.6" fill="#ff9410"/>
<circle cx="320.72" cy="277.26" r="1.6" fill="#ff9410"/>
<circle cx="317.72" cy="279.84" r="1.6" fill="#ff9410"/>
<circle cx="318.95" cy="283.29" r="1.6" fill="#ff9410"/>
<circle cx="321.93" cy="287.6" r="1.6" fill="#ff9410"/>
<line x1="319.8" y1="268.12" x2="319.8" y2="283.12" stroke="#151515" stroke-width="1.05"/>
<line x1="317.6" y1="268.12" x2="322" y2="268.12" stroke="#151515" stroke-width="1.05"/>
<line x1="317.6" y1="283.12" x2="322" y2="283.12" stroke="#151515" stroke-width="1.05"/>
<path d="M253.6 302.7L253.6 239.4L309.6 239.4L309.6 261.3" fill="none" stroke="#1e1e1e" stroke-width="0.9"/>
<path d="M264 267.3L264 229.4L319.6 229.4L319.6 252.7" fill="none" stroke="#1e1e1e" stroke-width="0.9"/>
<path d="M292.65 233.8L292.65 232.35M292.65 233.8L294.03 233.35M292.65 233.8L293.5 234.97M292.65 233.8L291.8 234.97M292.65 233.8L291.27 233.35" stroke="#222" stroke-width="0.85" stroke-linecap="round"/>
<path d="M296.55 233.8L296.55 232.35M296.55 233.8L297.93 233.35M296.55 233.8L297.4 234.97M296.55 233.8L295.7 234.97M296.55 233.8L295.17 233.35" stroke="#222" stroke-width="0.85" stroke-linecap="round"/>
<path d="M281.1 244.4L281.1 242.95M281.1 244.4L282.48 243.95M281.1 244.4L281.95 245.57M281.1 244.4L280.25 245.57M281.1 244.4L279.72 243.95" stroke="#222" stroke-width="0.85" stroke-linecap="round"/>
<path d="M285 244.4L285 242.95M285 244.4L286.38 243.95M285 244.4L285.85 245.57M285 244.4L284.15 245.57M285 244.4L283.62 243.95" stroke="#222" stroke-width="0.85" stroke-linecap="round"/>
<path d="M288.9 244.4L288.9 242.95M288.9 244.4L290.28 243.95M288.9 244.4L289.75 245.57M288.9 244.4L288.05 245.57M288.9 244.4L287.52 243.95" stroke="#222" stroke-width="0.85" stroke-linecap="round"/>
<line x1="210.3" y1="323.8" x2="231.6" y2="323.8" stroke="#1e1e1e" stroke-width="1.2"/>
<path d="M206.5 323.8L210.8 321.6L210.8 326Z" fill="#1e1e1e"/>
<path d="M235.4 323.8L231.1 321.6L231.1 326Z" fill="#1e1e1e"/>
<line x1="244.6" y1="323.8" x2="266.2" y2="323.8" stroke="#1e1e1e" stroke-width="1.2"/>
<path d="M240.8 323.8L245.1 321.6L245.1 326Z" fill="#1e1e1e"/>
<path d="M270 323.8L265.7 321.6L265.7 326Z" fill="#1e1e1e"/>
<line x1="276.8" y1="323.8" x2="320" y2="323.8" stroke="#1e1e1e" stroke-width="1.2"/>
<path d="M273 323.8L277.3 321.6L277.3 326Z" fill="#1e1e1e"/>
<path d="M323.8 323.8L319.5 321.6L319.5 326Z" fill="#1e1e1e"/>
<text x="207.7" y="336.65" font-size="9" textLength="25.9" lengthAdjust="spacingAndGlyphs">Control</text>
<text x="243.1" y="336.25" font-size="9" textLength="24.8" lengthAdjust="spacingAndGlyphs">CXCR7</text>
<text x="243" y="346.15" font-size="9" textLength="25.3" lengthAdjust="spacingAndGlyphs">agonist</text>
<text x="275.7" y="336.65" font-size="9" textLength="45.9" lengthAdjust="spacingAndGlyphs">IP antagonist</text>
<text x="363.7" y="210.9" font-size="11.2" font-weight="bold" fill="#000" stroke="#000" stroke-width="0.25">E</text>
<circle cx="433.7" cy="209.3" r="1.5" fill="#124f8c"/>
<text x="442.2" y="212.21" font-size="8.3" textLength="17" lengthAdjust="spacingAndGlyphs">Basal</text>
<circle cx="433.7" cy="218.9" r="1.5" fill="#2fb84a"/>
<text x="442.2" y="221.81" font-size="8.3" textLength="49.8" lengthAdjust="spacingAndGlyphs">CXCR7 agonist</text>
<circle cx="433.7" cy="228.4" r="1.5" fill="#cf0d30"/>
<text x="442.2" y="231.31" font-size="8.3" textLength="13.1" lengthAdjust="spacingAndGlyphs">IP(i)</text>
<circle cx="433.7" cy="237.8" r="1.5" fill="#5a1a78"/>
<text x="442.2" y="240.71" font-size="8.3" textLength="71.4" lengthAdjust="spacingAndGlyphs">IP(i) + CXCR7 agonist</text>
<line x1="393.7" y1="237.8" x2="393.7" y2="319.1" stroke="#1e1e1e" stroke-width="1.1"/>
<line x1="391.1" y1="241.8" x2="393.7" y2="241.8" stroke="#1e1e1e" stroke-width="1.1"/>
<text x="388.4" y="245.16" font-size="9.6" text-anchor="end" textLength="13.45" lengthAdjust="spacingAndGlyphs">150</text>
<line x1="391.1" y1="267.7" x2="393.7" y2="267.7" stroke="#1e1e1e" stroke-width="1.1"/>
<text x="388.4" y="271.06" font-size="9.6" text-anchor="end" textLength="13.45" lengthAdjust="spacingAndGlyphs">100</text>
<line x1="391.1" y1="293.2" x2="393.7" y2="293.2" stroke="#1e1e1e" stroke-width="1.1"/>
<text x="388.4" y="296.56" font-size="9.6" text-anchor="end" textLength="8.97" lengthAdjust="spacingAndGlyphs">50</text>
<line x1="391.1" y1="318.6" x2="393.7" y2="318.6" stroke="#1e1e1e" stroke-width="1.1"/>
<text x="388.4" y="321.96" font-size="9.6" text-anchor="end" textLength="4.48" lengthAdjust="spacingAndGlyphs">0</text>
<text transform="rotate(-90 367.3 280.2)" x="367.3" y="283.49" font-size="9.4" text-anchor="middle" textLength="64" lengthAdjust="spacingAndGlyphs">Aggregation (AUC)</text>
<line x1="393" y1="318.6" x2="504.6" y2="318.6" stroke="#1e1e1e" stroke-width="1.1"/>
<rect x="399.5" y="274.01" width="9.5" height="44.59" fill="#8aabcb"/>
<circle cx="404.23" cy="264.79" r="1.6" fill="#124f8c"/>
<circle cx="402.36" cy="267.35" r="1.6" fill="#124f8c"/>
<circle cx="405.36" cy="272.48" r="1.6" fill="#124f8c"/>
<circle cx="402.17" cy="275.04" r="1.6" fill="#124f8c"/>
<circle cx="404.03" cy="275.55" r="1.6" fill="#124f8c"/>
<circle cx="408.05" cy="276.58" r="1.6" fill="#124f8c"/>
<circle cx="400.9" cy="277.6" r="1.6" fill="#124f8c"/>
<circle cx="402.78" cy="280.16" r="1.6" fill="#124f8c"/>
<circle cx="405.67" cy="282.73" r="1.6" fill="#124f8c"/>
<line x1="404.25" y1="271.45" x2="404.25" y2="276.58" stroke="#151515" stroke-width="1.05"/>
<line x1="402" y1="271.45" x2="406.5" y2="271.45" stroke="#151515" stroke-width="1.05"/>
<line x1="402" y1="276.58" x2="406.5" y2="276.58" stroke="#151515" stroke-width="1.05"/>
<rect x="411.9" y="291.44" width="9.5" height="27.16" fill="#a3dea9"/>
<circle cx="414.58" cy="285.29" r="1.6" fill="#2fb84a"/>
<circle cx="416.67" cy="286.31" r="1.6" fill="#2fb84a"/>
<circle cx="413.92" cy="290.41" r="1.6" fill="#2fb84a"/>
<circle cx="419.24" cy="291.95" r="1.6" fill="#2fb84a"/>
<circle cx="414.48" cy="294" r="1.6" fill="#2fb84a"/>
<circle cx="417.07" cy="295.03" r="1.6" fill="#2fb84a"/>
<circle cx="420.09" cy="298.1" r="1.6" fill="#2fb84a"/>
<circle cx="415.82" cy="300.66" r="1.6" fill="#2fb84a"/>
<circle cx="420.43" cy="302.2" r="1.6" fill="#2fb84a"/>
<line x1="416.65" y1="289.39" x2="416.65" y2="294" stroke="#151515" stroke-width="1.05"/>
<line x1="414.4" y1="289.39" x2="418.9" y2="289.39" stroke="#151515" stroke-width="1.05"/>
<line x1="414.4" y1="294" x2="418.9" y2="294" stroke="#151515" stroke-width="1.05"/>
<rect x="424.4" y="276.58" width="9.7" height="42.02" fill="#e2889a"/>
<circle cx="433.19" cy="259.66" r="1.6" fill="#cf0d30"/>
<circle cx="425.58" cy="261.2" r="1.6" fill="#cf0d30"/>
<circle cx="431.11" cy="276.06" r="1.6" fill="#cf0d30"/>
<circle cx="429.12" cy="276.58" r="1.6" fill="#cf0d30"/>
<circle cx="432.89" cy="277.09" r="1.6" fill="#cf0d30"/>
<circle cx="428.48" cy="277.6" r="1.6" fill="#cf0d30"/>
<circle cx="432.71" cy="278.62" r="1.6" fill="#cf0d30"/>
<circle cx="426.44" cy="281.7" r="1.6" fill="#cf0d30"/>
<circle cx="433.33" cy="284.78" r="1.6" fill="#cf0d30"/>
<circle cx="428.53" cy="286.83" r="1.6" fill="#cf0d30"/>
<line x1="429.25" y1="274.53" x2="429.25" y2="278.11" stroke="#151515" stroke-width="1.05"/>
<line x1="427" y1="274.53" x2="431.5" y2="274.53" stroke="#151515" stroke-width="1.05"/>
<line x1="427" y1="278.11" x2="431.5" y2="278.11" stroke="#151515" stroke-width="1.05"/>
<rect x="436.7" y="284.26" width="9.8" height="34.34" fill="#a88fbb"/>
<circle cx="442.58" cy="265.81" r="1.6" fill="#5a1a78"/>
<circle cx="444.85" cy="270.94" r="1.6" fill="#5a1a78"/>
<circle cx="441.24" cy="273.5" r="1.6" fill="#5a1a78"/>
<circle cx="443.36" cy="281.7" r="1.6" fill="#5a1a78"/>
<circle cx="445.24" cy="284.26" r="1.6" fill="#5a1a78"/>
<circle cx="441.77" cy="285.8" r="1.6" fill="#5a1a78"/>
<circle cx="443.55" cy="286.83" r="1.6" fill="#5a1a78"/>
<circle cx="443.5" cy="287.85" r="1.6" fill="#5a1a78"/>
<circle cx="444.58" cy="288.88" r="1.6" fill="#5a1a78"/>
<circle cx="437.74" cy="290.41" r="1.6" fill="#5a1a78"/>
<circle cx="438.85" cy="291.44" r="1.6" fill="#5a1a78"/>
<line x1="441.6" y1="281.7" x2="441.6" y2="286.83" stroke="#151515" stroke-width="1.05"/>
<line x1="439.35" y1="281.7" x2="443.85" y2="281.7" stroke="#151515" stroke-width="1.05"/>
<line x1="439.35" y1="286.83" x2="443.85" y2="286.83" stroke="#151515" stroke-width="1.05"/>
<rect x="456.9" y="282.73" width="9.9" height="35.88" fill="#8aabcb"/>
<circle cx="465.33" cy="276.58" r="1.6" fill="#124f8c"/>
<circle cx="458.8" cy="281.19" r="1.6" fill="#124f8c"/>
<circle cx="462.32" cy="282.21" r="1.6" fill="#124f8c"/>
<circle cx="461.71" cy="282.73" r="1.6" fill="#124f8c"/>
<circle cx="465.71" cy="283.24" r="1.6" fill="#124f8c"/>
<circle cx="460.84" cy="283.75" r="1.6" fill="#124f8c"/>
<circle cx="461.4" cy="284.78" r="1.6" fill="#124f8c"/>
<line x1="461.85" y1="281.19" x2="461.85" y2="284.26" stroke="#151515" stroke-width="1.05"/>
<line x1="459.6" y1="281.19" x2="464.1" y2="281.19" stroke="#151515" stroke-width="1.05"/>
<line x1="459.6" y1="284.26" x2="464.1" y2="284.26" stroke="#151515" stroke-width="1.05"/>
<rect x="469.2" y="289.39" width="9.9" height="29.21" fill="#a3dea9"/>
<circle cx="470.7" cy="286.31" r="1.6" fill="#2fb84a"/>
<circle cx="477.94" cy="287.34" r="1.6" fill="#2fb84a"/>
<circle cx="471.2" cy="288.36" r="1.6" fill="#2fb84a"/>
<circle cx="476.16" cy="289.39" r="1.6" fill="#2fb84a"/>
<circle cx="477.02" cy="290.41" r="1.6" fill="#2fb84a"/>
<circle cx="476.23" cy="291.95" r="1.6" fill="#2fb84a"/>
<circle cx="472.48" cy="292.98" r="1.6" fill="#2fb84a"/>
<circle cx="472.9" cy="295.54" r="1.6" fill="#2fb84a"/>
<line x1="474.15" y1="288.36" x2="474.15" y2="290.93" stroke="#151515" stroke-width="1.05"/>
<line x1="471.9" y1="288.36" x2="476.4" y2="288.36" stroke="#151515" stroke-width="1.05"/>
<line x1="471.9" y1="290.93" x2="476.4" y2="290.93" stroke="#151515" stroke-width="1.05"/>
<rect x="481.8" y="283.24" width="9.9" height="35.36" fill="#e2889a"/>
<circle cx="490.67" cy="274.01" r="1.6" fill="#cf0d30"/>
<circle cx="487.25" cy="275.55" r="1.6" fill="#cf0d30"/>
<circle cx="486.53" cy="276.58" r="1.6" fill="#cf0d30"/>
<circle cx="486.95" cy="281.19" r="1.6" fill="#cf0d30"/>
<circle cx="489" cy="282.73" r="1.6" fill="#cf0d30"/>
<circle cx="490.86" cy="284.78" r="1.6" fill="#cf0d30"/>
<circle cx="486.08" cy="286.31" r="1.6" fill="#cf0d30"/>
<circle cx="484.49" cy="287.85" r="1.6" fill="#cf0d30"/>
<circle cx="485.7" cy="288.88" r="1.6" fill="#cf0d30"/>
<line x1="486.75" y1="280.68" x2="486.75" y2="285.8" stroke="#151515" stroke-width="1.05"/>
<line x1="484.5" y1="280.68" x2="489" y2="280.68" stroke="#151515" stroke-width="1.05"/>
<line x1="484.5" y1="285.8" x2="489" y2="285.8" stroke="#151515" stroke-width="1.05"/>
<rect x="494.5" y="284.78" width="9.5" height="33.82" fill="#a88fbb"/>
<circle cx="495.56" cy="280.68" r="1.6" fill="#5a1a78"/>
<circle cx="499.97" cy="281.19" r="1.6" fill="#5a1a78"/>
<circle cx="495.37" cy="281.7" r="1.6" fill="#5a1a78"/>
<circle cx="499.36" cy="282.73" r="1.6" fill="#5a1a78"/>
<circle cx="503.1" cy="284.78" r="1.6" fill="#5a1a78"/>
<circle cx="497.56" cy="285.8" r="1.6" fill="#5a1a78"/>
<circle cx="503.08" cy="286.83" r="1.6" fill="#5a1a78"/>
<circle cx="500.35" cy="288.88" r="1.6" fill="#5a1a78"/>
<circle cx="502.35" cy="289.9" r="1.6" fill="#5a1a78"/>
<line x1="499.25" y1="283.24" x2="499.25" y2="286.31" stroke="#151515" stroke-width="1.05"/>
<line x1="497" y1="283.24" x2="501.5" y2="283.24" stroke="#151515" stroke-width="1.05"/>
<line x1="497" y1="286.31" x2="501.5" y2="286.31" stroke="#151515" stroke-width="1.05"/>
<line x1="416.4" y1="248.2" x2="442.5" y2="248.2" stroke="#1e1e1e" stroke-width="1"/>
<line x1="416.4" y1="245" x2="416.4" y2="251.4" stroke="#1e1e1e" stroke-width="1"/>
<line x1="442.5" y1="245" x2="442.5" y2="251.4" stroke="#1e1e1e" stroke-width="1"/>
<line x1="473.6" y1="259" x2="499.6" y2="259" stroke="#1e1e1e" stroke-width="1"/>
<line x1="473.6" y1="255.7" x2="473.6" y2="262.3" stroke="#1e1e1e" stroke-width="1"/>
<line x1="499.6" y1="255.7" x2="499.6" y2="262.3" stroke="#1e1e1e" stroke-width="1"/>
<path d="M429.2 244.4L429.2 242.8M429.2 244.4L430.72 243.91M429.2 244.4L430.14 245.69M429.2 244.4L428.26 245.69M429.2 244.4L427.68 243.91" stroke="#222" stroke-width="0.85" stroke-linecap="round"/>
<path d="M485.3 255.6L485.3 254M485.3 255.6L486.82 255.11M485.3 255.6L486.24 256.89M485.3 255.6L484.36 256.89M485.3 255.6L483.78 255.11" stroke="#222" stroke-width="0.85" stroke-linecap="round"/>
<path d="M488.9 255.6L488.9 254M488.9 255.6L490.42 255.11M488.9 255.6L489.84 256.89M488.9 255.6L487.96 256.89M488.9 255.6L487.38 255.11" stroke="#222" stroke-width="0.85" stroke-linecap="round"/>
<line x1="404" y1="323.3" x2="439.8" y2="323.3" stroke="#1e1e1e" stroke-width="1.2"/>
<path d="M400.2 323.3L404.5 321.1L404.5 325.5Z" fill="#1e1e1e"/>
<path d="M443.6 323.3L439.3 321.1L439.3 325.5Z" fill="#1e1e1e"/>
<line x1="463.8" y1="323.3" x2="498.4" y2="323.3" stroke="#1e1e1e" stroke-width="1.2"/>
<path d="M460 323.3L464.3 321.1L464.3 325.5Z" fill="#1e1e1e"/>
<path d="M502.2 323.3L497.9 321.1L497.9 325.5Z" fill="#1e1e1e"/>
<text x="408.7" y="333.65" font-size="9" textLength="31.3" lengthAdjust="spacingAndGlyphs">Collagen</text>
<text x="475.9" y="333.65" font-size="9" textLength="18.8" lengthAdjust="spacingAndGlyphs">TRAP</text>
<text x="196.5" y="393.8" font-size="11.2" font-weight="bold" fill="#000" stroke="#000" stroke-width="0.25">F</text>
<circle cx="247.2" cy="409.5" r="1.5" fill="#124f8c"/>
<text x="251.2" y="412.4" font-size="8.3" textLength="25" lengthAdjust="spacingAndGlyphs">Control</text>
<circle cx="247.2" cy="420.4" r="1.5" fill="#cf0d30"/>
<text x="251.2" y="423.3" font-size="8.3" textLength="50.3" lengthAdjust="spacingAndGlyphs">CXCR7 agonist</text>
<line x1="238.5" y1="418.1" x2="238.5" y2="496.7" stroke="#1e1e1e" stroke-width="1.1"/>
<line x1="235.9" y1="421.5" x2="238.5" y2="421.5" stroke="#1e1e1e" stroke-width="1.1"/>
<text x="233.2" y="424.86" font-size="9.6" text-anchor="end" textLength="22.42" lengthAdjust="spacingAndGlyphs">60000</text>
<line x1="235.9" y1="446.5" x2="238.5" y2="446.5" stroke="#1e1e1e" stroke-width="1.1"/>
<text x="233.2" y="449.86" font-size="9.6" text-anchor="end" textLength="22.42" lengthAdjust="spacingAndGlyphs">40000</text>
<line x1="235.9" y1="471.2" x2="238.5" y2="471.2" stroke="#1e1e1e" stroke-width="1.1"/>
<text x="233.2" y="474.56" font-size="9.6" text-anchor="end" textLength="22.42" lengthAdjust="spacingAndGlyphs">20000</text>
<line x1="235.9" y1="496.2" x2="238.5" y2="496.2" stroke="#1e1e1e" stroke-width="1.1"/>
<text x="233.2" y="499.56" font-size="9.6" text-anchor="end" textLength="4.48" lengthAdjust="spacingAndGlyphs">0</text>
<text transform="rotate(-90 203.8 455)" x="203.8" y="458.32" font-size="9.5" text-anchor="middle" textLength="90.4" lengthAdjust="spacingAndGlyphs">Thrombus coverage (µm<tspan font-size="6" dy="-3.5">2</tspan><tspan dy="3.5">)</tspan></text>
<line x1="238" y1="496.2" x2="312" y2="496.2" stroke="#1e1e1e" stroke-width="1.1"/>
<rect x="244.7" y="447.64" width="12.2" height="48.56" fill="#8aabcb"/>
<circle cx="255.3" cy="428.97" r="1.6" fill="#124f8c"/>
<circle cx="248.54" cy="431.46" r="1.6" fill="#124f8c"/>
<circle cx="250.35" cy="436.44" r="1.6" fill="#124f8c"/>
<circle cx="246.81" cy="437.69" r="1.6" fill="#124f8c"/>
<circle cx="256.24" cy="440.18" r="1.6" fill="#124f8c"/>
<circle cx="247.01" cy="442.66" r="1.6" fill="#124f8c"/>
<circle cx="252.71" cy="446.4" r="1.6" fill="#124f8c"/>
<circle cx="251.88" cy="447.64" r="1.6" fill="#124f8c"/>
<circle cx="253.16" cy="452.62" r="1.6" fill="#124f8c"/>
<circle cx="249.82" cy="455.12" r="1.6" fill="#124f8c"/>
<circle cx="249.48" cy="456.36" r="1.6" fill="#124f8c"/>
<circle cx="249.7" cy="457.61" r="1.6" fill="#124f8c"/>
<circle cx="246.11" cy="458.85" r="1.6" fill="#124f8c"/>
<circle cx="248.82" cy="461.34" r="1.6" fill="#124f8c"/>
<circle cx="248.34" cy="462.58" r="1.6" fill="#124f8c"/>
<line x1="250.8" y1="443.91" x2="250.8" y2="450.76" stroke="#151515" stroke-width="1.05"/>
<line x1="248.55" y1="443.91" x2="253.05" y2="443.91" stroke="#151515" stroke-width="1.05"/>
<line x1="248.55" y1="450.76" x2="253.05" y2="450.76" stroke="#151515" stroke-width="1.05"/>
<rect x="260.4" y="479.39" width="12" height="16.81" fill="#e2889a"/>
<circle cx="264.5" cy="463.83" r="1.6" fill="#cf0d30"/>
<circle cx="267.7" cy="464.45" r="1.6" fill="#cf0d30"/>
<circle cx="261.09" cy="470.06" r="1.6" fill="#cf0d30"/>
<circle cx="271.61" cy="473.79" r="1.6" fill="#cf0d30"/>
<circle cx="269.88" cy="476.28" r="1.6" fill="#cf0d30"/>
<circle cx="271.79" cy="480.01" r="1.6" fill="#cf0d30"/>
<circle cx="263.84" cy="481.26" r="1.6" fill="#cf0d30"/>
<circle cx="263.15" cy="482.5" r="1.6" fill="#cf0d30"/>
<circle cx="261.59" cy="483.75" r="1.6" fill="#cf0d30"/>
<circle cx="263.09" cy="484.37" r="1.6" fill="#cf0d30"/>
<circle cx="261.26" cy="485" r="1.6" fill="#cf0d30"/>
<circle cx="268.47" cy="486.24" r="1.6" fill="#cf0d30"/>
<circle cx="264.95" cy="487.49" r="1.6" fill="#cf0d30"/>
<line x1="266.4" y1="475.66" x2="266.4" y2="482.5" stroke="#151515" stroke-width="1.05"/>
<line x1="264.15" y1="475.66" x2="268.65" y2="475.66" stroke="#151515" stroke-width="1.05"/>
<line x1="264.15" y1="482.5" x2="268.65" y2="482.5" stroke="#151515" stroke-width="1.05"/>
<rect x="278.9" y="452.62" width="12" height="43.57" fill="#8aabcb"/>
<circle cx="280.29" cy="445.15" r="1.6" fill="#124f8c"/>
<circle cx="285.92" cy="446.4" r="1.6" fill="#124f8c"/>
<circle cx="290.19" cy="447.64" r="1.6" fill="#124f8c"/>
<circle cx="283.22" cy="448.89" r="1.6" fill="#124f8c"/>
<circle cx="285.37" cy="450.13" r="1.6" fill="#124f8c"/>
<circle cx="283.54" cy="451.38" r="1.6" fill="#124f8c"/>
<circle cx="287.49" cy="452.62" r="1.6" fill="#124f8c"/>
<circle cx="286.9" cy="453.87" r="1.6" fill="#124f8c"/>
<circle cx="285.97" cy="454.49" r="1.6" fill="#124f8c"/>
<circle cx="290.04" cy="455.12" r="1.6" fill="#124f8c"/>
<circle cx="287.09" cy="456.36" r="1.6" fill="#124f8c"/>
<circle cx="283.2" cy="457.61" r="1.6" fill="#124f8c"/>
<line x1="284.9" y1="450.76" x2="284.9" y2="455.12" stroke="#151515" stroke-width="1.05"/>
<line x1="282.65" y1="450.76" x2="287.15" y2="450.76" stroke="#151515" stroke-width="1.05"/>
<line x1="282.65" y1="455.12" x2="287.15" y2="455.12" stroke="#151515" stroke-width="1.05"/>
<rect x="294.3" y="453.25" width="12.2" height="42.95" fill="#e2889a"/>
<circle cx="297.98" cy="444.53" r="1.6" fill="#cf0d30"/>
<circle cx="300.42" cy="445.15" r="1.6" fill="#cf0d30"/>
<circle cx="301.1" cy="445.78" r="1.6" fill="#cf0d30"/>
<circle cx="299.97" cy="446.4" r="1.6" fill="#cf0d30"/>
<circle cx="301.35" cy="447.64" r="1.6" fill="#cf0d30"/>
<circle cx="300.26" cy="448.89" r="1.6" fill="#cf0d30"/>
<circle cx="300.6" cy="450.13" r="1.6" fill="#cf0d30"/>
<circle cx="297.13" cy="452.62" r="1.6" fill="#cf0d30"/>
<circle cx="296.12" cy="453.87" r="1.6" fill="#cf0d30"/>
<circle cx="297.71" cy="455.12" r="1.6" fill="#cf0d30"/>
<circle cx="303.47" cy="458.85" r="1.6" fill="#cf0d30"/>
<circle cx="295.19" cy="460.09" r="1.6" fill="#cf0d30"/>
<circle cx="298.78" cy="461.96" r="1.6" fill="#cf0d30"/>
<circle cx="299.55" cy="465.07" r="1.6" fill="#cf0d30"/>
<line x1="300.4" y1="450.76" x2="300.4" y2="455.74" stroke="#151515" stroke-width="1.05"/>
<line x1="298.15" y1="450.76" x2="302.65" y2="450.76" stroke="#151515" stroke-width="1.05"/>
<line x1="298.15" y1="455.74" x2="302.65" y2="455.74" stroke="#151515" stroke-width="1.05"/>
<line x1="265.5" y1="437.2" x2="301.9" y2="437.2" stroke="#1e1e1e" stroke-width="1"/>
<line x1="265.5" y1="433.9" x2="265.5" y2="440.5" stroke="#1e1e1e" stroke-width="1"/>
<line x1="301.9" y1="433.9" x2="301.9" y2="440.5" stroke="#1e1e1e" stroke-width="1"/>
<path d="M277.5 433.8L277.5 432.2M277.5 433.8L279.02 433.31M277.5 433.8L278.44 435.09M277.5 433.8L276.56 435.09M277.5 433.8L275.98 433.31" stroke="#222" stroke-width="0.85" stroke-linecap="round"/>
<path d="M281.5 433.8L281.5 432.2M281.5 433.8L283.02 433.31M281.5 433.8L282.44 435.09M281.5 433.8L280.56 435.09M281.5 433.8L279.98 433.31" stroke="#222" stroke-width="0.85" stroke-linecap="round"/>
<path d="M285.5 433.8L285.5 432.2M285.5 433.8L287.02 433.31M285.5 433.8L286.44 435.09M285.5 433.8L284.56 435.09M285.5 433.8L283.98 433.31" stroke="#222" stroke-width="0.85" stroke-linecap="round"/>
<path d="M289.5 433.8L289.5 432.2M289.5 433.8L291.02 433.31M289.5 433.8L290.44 435.09M289.5 433.8L288.56 435.09M289.5 433.8L287.98 433.31" stroke="#222" stroke-width="0.85" stroke-linecap="round"/>
<line x1="284.2" y1="500.6" x2="303.1" y2="500.6" stroke="#1e1e1e" stroke-width="1.2"/>
<path d="M280.4 500.6L284.7 498.4L284.7 502.8Z" fill="#1e1e1e"/>
<path d="M306.9 500.6L302.6 498.4L302.6 502.8Z" fill="#1e1e1e"/>
<text x="286.4" y="510.98" font-size="8.5" textLength="12.5" lengthAdjust="spacingAndGlyphs">IP(i)</text>
<text x="367.6" y="394" font-size="11.2" font-weight="bold" fill="#000" stroke="#000" stroke-width="0.25">Gi</text>
<circle cx="404.5" cy="392.3" r="1.5" fill="#124f8c"/>
<text x="408.8" y="395.2" font-size="8.3" textLength="25" lengthAdjust="spacingAndGlyphs">Resting</text>
<circle cx="404.5" cy="402.3" r="1.5" fill="#cf0d30"/>
<text x="408.8" y="405.2" font-size="8.3" textLength="48" lengthAdjust="spacingAndGlyphs">CXCR7 agonist</text>
<line x1="393.8" y1="408.6" x2="393.8" y2="420.5" stroke="#1e1e1e" stroke-width="1.1"/>
<line x1="391.1" y1="420.5" x2="396.6" y2="420.5" stroke="#1e1e1e" stroke-width="1.1"/>
<line x1="391.1" y1="426.7" x2="396.6" y2="426.7" stroke="#1e1e1e" stroke-width="1.1"/>
<line x1="391.2" y1="412.6" x2="393.8" y2="412.6" stroke="#1e1e1e" stroke-width="1.1"/>
<text x="388.3" y="415.66" font-size="9.6" text-anchor="end" textLength="8.97" lengthAdjust="spacingAndGlyphs">20</text>
<text x="388.3" y="423.56" font-size="9.6" text-anchor="end" textLength="8.97" lengthAdjust="spacingAndGlyphs">15</text>
<line x1="393.8" y1="426.7" x2="393.8" y2="496.9" stroke="#1e1e1e" stroke-width="1.1"/>
<line x1="391.2" y1="449.8" x2="393.8" y2="449.8" stroke="#1e1e1e" stroke-width="1.1"/>
<text x="388.5" y="453.16" font-size="9.6" text-anchor="end" textLength="8.97" lengthAdjust="spacingAndGlyphs">10</text>
<line x1="391.2" y1="473.2" x2="393.8" y2="473.2" stroke="#1e1e1e" stroke-width="1.1"/>
<text x="388.5" y="476.56" font-size="9.6" text-anchor="end" textLength="4.48" lengthAdjust="spacingAndGlyphs">5</text>
<line x1="391.2" y1="496.4" x2="393.8" y2="496.4" stroke="#1e1e1e" stroke-width="1.1"/>
<text x="388.5" y="499.76" font-size="9.6" text-anchor="end" textLength="4.48" lengthAdjust="spacingAndGlyphs">0</text>
<text x="388.3" y="430.76" font-size="9.6" text-anchor="end" textLength="8.97" lengthAdjust="spacingAndGlyphs">15</text>
<text transform="rotate(-90 372.15 452.5)" x="372.15" y="455.75" font-size="9.3" text-anchor="middle" textLength="59.8" lengthAdjust="spacingAndGlyphs">12-HETrE (ng/mL)</text>
<line x1="393" y1="496.4" x2="450" y2="496.4" stroke="#1e1e1e" stroke-width="1.1"/>
<rect x="401.6" y="490.6" width="16.5" height="5.8" fill="#8aabcb"/>
<circle cx="409.35" cy="473.13" r="1.6" fill="#124f8c"/>
<circle cx="411.35" cy="474.07" r="1.6" fill="#124f8c"/>
<circle cx="409.85" cy="487.09" r="1.6" fill="#124f8c"/>
<circle cx="411.85" cy="490.82" r="1.6" fill="#124f8c"/>
<circle cx="405.85" cy="492.68" r="1.6" fill="#124f8c"/>
<circle cx="407.85" cy="494.07" r="1.6" fill="#124f8c"/>
<circle cx="409.85" cy="494.54" r="1.6" fill="#124f8c"/>
<circle cx="411.85" cy="495" r="1.6" fill="#124f8c"/>
<circle cx="413.85" cy="495" r="1.6" fill="#124f8c"/>
<circle cx="403.85" cy="495.47" r="1.6" fill="#124f8c"/>
<line x1="409.85" y1="488.02" x2="409.85" y2="493.61" stroke="#151515" stroke-width="1.05"/>
<line x1="407.6" y1="488.02" x2="412.1" y2="488.02" stroke="#151515" stroke-width="1.05"/>
<line x1="407.6" y1="493.61" x2="412.1" y2="493.61" stroke="#151515" stroke-width="1.05"/>
<rect x="426.2" y="481.5" width="15.8" height="14.9" fill="#e2889a"/>
<circle cx="434.1" cy="462.43" r="1.6" fill="#cf0d30"/>
<circle cx="434.1" cy="471.74" r="1.6" fill="#cf0d30"/>
<circle cx="434.1" cy="489.42" r="1.6" fill="#cf0d30"/>
<circle cx="428.1" cy="492.21" r="1.6" fill="#cf0d30"/>
<circle cx="431.1" cy="493.14" r="1.6" fill="#cf0d30"/>
<circle cx="434.1" cy="493.61" r="1.6" fill="#cf0d30"/>
<circle cx="437.1" cy="494.07" r="1.6" fill="#cf0d30"/>
<circle cx="440.1" cy="494.54" r="1.6" fill="#cf0d30"/>
<line x1="434.1" y1="473.6" x2="434.1" y2="489.42" stroke="#151515" stroke-width="1.05"/>
<line x1="431.85" y1="473.6" x2="436.35" y2="473.6" stroke="#151515" stroke-width="1.05"/>
<line x1="431.85" y1="489.42" x2="436.35" y2="489.42" stroke="#151515" stroke-width="1.05"/>
<circle cx="434.2" cy="413.1" r="1.75" fill="#cf0d30"/>
<line x1="405.3" y1="437.3" x2="431.2" y2="437.3" stroke="#1e1e1e" stroke-width="1"/>
<line x1="405.3" y1="433.7" x2="405.3" y2="440.9" stroke="#1e1e1e" stroke-width="1"/>
<line x1="431.2" y1="433.7" x2="431.2" y2="440.9" stroke="#1e1e1e" stroke-width="1"/>
<path d="M418.1 442.9L418.1 441.4M418.1 442.9L419.53 442.44M418.1 442.9L418.98 444.11M418.1 442.9L417.22 444.11M418.1 442.9L416.67 442.44" stroke="#222" stroke-width="0.85" stroke-linecap="round"/>
<text x="450" y="419.43" font-size="9.8" textLength="20" lengthAdjust="spacingAndGlyphs" font-weight="bold" fill="#1a5493">CAD</text>
<text x="154.7" y="559.4" font-size="11.2" font-weight="bold" fill="#000" stroke="#000" stroke-width="0.25">Gii</text>
<circle cx="187.7" cy="568.7" r="1.5" fill="#124f8c"/>
<text x="191.9" y="571.61" font-size="8.3" textLength="25" lengthAdjust="spacingAndGlyphs">Resting</text>
<circle cx="228.7" cy="568.7" r="1.5" fill="#cf0d30"/>
<text x="233.6" y="571.61" font-size="8.3" textLength="15" lengthAdjust="spacingAndGlyphs">CRP</text>
<circle cx="259.9" cy="569.3" r="1.5" fill="#2fb84a"/>
<text x="263.8" y="572.2" font-size="8.3" textLength="73.5" lengthAdjust="spacingAndGlyphs">CXCR7 agonist + CRP</text>
<text x="349" y="574.03" font-size="9.8" textLength="20" lengthAdjust="spacingAndGlyphs" font-weight="bold" fill="#1a5493">CAD</text>
<line x1="179.6" y1="579.3" x2="179.6" y2="667.1" stroke="#1e1e1e" stroke-width="1.1"/>
<line x1="177" y1="583.5" x2="179.6" y2="583.5" stroke="#1e1e1e" stroke-width="1.1"/>
<text x="174.3" y="586.86" font-size="9.6" text-anchor="end" textLength="8.97" lengthAdjust="spacingAndGlyphs">60</text>
<line x1="177" y1="625.4" x2="179.6" y2="625.4" stroke="#1e1e1e" stroke-width="1.1"/>
<text x="174.3" y="628.76" font-size="9.6" text-anchor="end" textLength="8.97" lengthAdjust="spacingAndGlyphs">30</text>
<line x1="177" y1="666.6" x2="179.6" y2="666.6" stroke="#1e1e1e" stroke-width="1.1"/>
<text x="174.3" y="669.96" font-size="9.6" text-anchor="end" textLength="4.48" lengthAdjust="spacingAndGlyphs">0</text>
<text transform="rotate(-90 159.7 626)" x="159.7" y="629.39" font-size="9.7" text-anchor="middle" textLength="43.7" lengthAdjust="spacingAndGlyphs">CD62P (MFI)</text>
<line x1="262.7" y1="582.1" x2="262.7" y2="666.6" stroke="#1e1e1e" stroke-width="1.1"/>
<line x1="345.2" y1="579.5" x2="345.2" y2="667.1" stroke="#1e1e1e" stroke-width="1.1"/>
<line x1="345.2" y1="582.8" x2="347.8" y2="582.8" stroke="#1e1e1e" stroke-width="1.1"/>
<text x="350.5" y="586.16" font-size="9.6" textLength="13.45" lengthAdjust="spacingAndGlyphs">150</text>
<line x1="345.2" y1="610.9" x2="347.8" y2="610.9" stroke="#1e1e1e" stroke-width="1.1"/>
<text x="350.5" y="614.26" font-size="9.6" textLength="13.45" lengthAdjust="spacingAndGlyphs">100</text>
<line x1="345.2" y1="639" x2="347.8" y2="639" stroke="#1e1e1e" stroke-width="1.1"/>
<text x="350.5" y="642.36" font-size="9.6" textLength="8.97" lengthAdjust="spacingAndGlyphs">50</text>
<line x1="345.2" y1="666.8" x2="347.8" y2="666.8" stroke="#1e1e1e" stroke-width="1.1"/>
<text x="350.5" y="670.16" font-size="9.6" textLength="4.48" lengthAdjust="spacingAndGlyphs">0</text>
<text transform="rotate(90 373.1 622.7)" x="373.1" y="626.31" font-size="10.3" text-anchor="middle" textLength="38.1" lengthAdjust="spacingAndGlyphs">PAC1 (MFI)</text>
<line x1="179" y1="666.6" x2="345.2" y2="666.6" stroke="#1e1e1e" stroke-width="1.1"/>
<rect x="185.4" y="663.55" width="8.9" height="3.05" fill="#8aabcb"/>
<circle cx="187.48" cy="662.44" r="1.6" fill="#124f8c"/>
<circle cx="186.59" cy="663.13" r="1.6" fill="#124f8c"/>
<circle cx="191.13" cy="663.55" r="1.6" fill="#124f8c"/>
<circle cx="190.54" cy="663.83" r="1.6" fill="#124f8c"/>
<circle cx="190.93" cy="664.1" r="1.6" fill="#124f8c"/>
<circle cx="188.69" cy="663.27" r="1.6" fill="#124f8c"/>
<rect x="197.3" y="625.68" width="9.7" height="40.92" fill="#e2889a"/>
<circle cx="198.51" cy="596.56" r="1.6" fill="#cf0d30"/>
<circle cx="199.29" cy="598.64" r="1.6" fill="#cf0d30"/>
<circle cx="203.75" cy="622.22" r="1.6" fill="#cf0d30"/>
<circle cx="199.19" cy="623.6" r="1.6" fill="#cf0d30"/>
<circle cx="206.07" cy="626.38" r="1.6" fill="#cf0d30"/>
<circle cx="205.16" cy="629.15" r="1.6" fill="#cf0d30"/>
<circle cx="204.27" cy="631.93" r="1.6" fill="#cf0d30"/>
<circle cx="201.85" cy="643.02" r="1.6" fill="#cf0d30"/>
<circle cx="205" cy="648.57" r="1.6" fill="#cf0d30"/>
<line x1="202.15" y1="620.14" x2="202.15" y2="630.54" stroke="#151515" stroke-width="1.05"/>
<line x1="199.9" y1="620.14" x2="204.4" y2="620.14" stroke="#151515" stroke-width="1.05"/>
<line x1="199.9" y1="630.54" x2="204.4" y2="630.54" stroke="#151515" stroke-width="1.05"/>
<rect x="209.1" y="655.5" width="9.7" height="11.1" fill="#a3dea9"/>
<circle cx="213.26" cy="641.63" r="1.6" fill="#2fb84a"/>
<circle cx="214.52" cy="644.41" r="1.6" fill="#2fb84a"/>
<circle cx="214.46" cy="650.65" r="1.6" fill="#2fb84a"/>
<circle cx="214.73" cy="653.42" r="1.6" fill="#2fb84a"/>
<circle cx="216.58" cy="655.5" r="1.6" fill="#2fb84a"/>
<circle cx="218.03" cy="658.28" r="1.6" fill="#2fb84a"/>
<circle cx="215.46" cy="660.36" r="1.6" fill="#2fb84a"/>
<circle cx="216.65" cy="662.44" r="1.6" fill="#2fb84a"/>
<circle cx="214.56" cy="663.83" r="1.6" fill="#2fb84a"/>
<circle cx="213.7" cy="664.52" r="1.6" fill="#2fb84a"/>
<line x1="213.95" y1="652.73" x2="213.95" y2="658.28" stroke="#151515" stroke-width="1.05"/>
<line x1="211.7" y1="652.73" x2="216.2" y2="652.73" stroke="#151515" stroke-width="1.05"/>
<line x1="211.7" y1="658.28" x2="216.2" y2="658.28" stroke="#151515" stroke-width="1.05"/>
<rect x="221.3" y="663.55" width="9.6" height="3.05" fill="#8aabcb"/>
<circle cx="229.66" cy="662.44" r="1.6" fill="#124f8c"/>
<circle cx="226.05" cy="663.13" r="1.6" fill="#124f8c"/>
<circle cx="226.67" cy="663.55" r="1.6" fill="#124f8c"/>
<circle cx="224.83" cy="663.83" r="1.6" fill="#124f8c"/>
<circle cx="222.76" cy="664.1" r="1.6" fill="#124f8c"/>
<circle cx="224.85" cy="663.27" r="1.6" fill="#124f8c"/>
<rect x="235.9" y="626.38" width="9.6" height="40.22" fill="#e2889a"/>
<circle cx="241.1" cy="600.72" r="1.6" fill="#cf0d30"/>
<circle cx="237.45" cy="601.41" r="1.6" fill="#cf0d30"/>
<circle cx="238.8" cy="622.22" r="1.6" fill="#cf0d30"/>
<circle cx="240.1" cy="626.38" r="1.6" fill="#cf0d30"/>
<circle cx="236.53" cy="629.15" r="1.6" fill="#cf0d30"/>
<circle cx="240.68" cy="630.54" r="1.6" fill="#cf0d30"/>
<circle cx="244.61" cy="631.93" r="1.6" fill="#cf0d30"/>
<circle cx="240.08" cy="645.8" r="1.6" fill="#cf0d30"/>
<circle cx="243.59" cy="647.18" r="1.6" fill="#cf0d30"/>
<line x1="240.7" y1="622.22" x2="240.7" y2="631.23" stroke="#151515" stroke-width="1.05"/>
<line x1="238.45" y1="622.22" x2="242.95" y2="622.22" stroke="#151515" stroke-width="1.05"/>
<line x1="238.45" y1="631.23" x2="242.95" y2="631.23" stroke="#151515" stroke-width="1.05"/>
<rect x="247.8" y="633.31" width="9.5" height="33.29" fill="#a3dea9"/>
<circle cx="254.77" cy="600.02" r="1.6" fill="#2fb84a"/>
<circle cx="252.67" cy="601.41" r="1.6" fill="#2fb84a"/>
<circle cx="256.8" cy="633.31" r="1.6" fill="#2fb84a"/>
<circle cx="252.89" cy="636.09" r="1.6" fill="#2fb84a"/>
<circle cx="256.27" cy="638.86" r="1.6" fill="#2fb84a"/>
<circle cx="249.37" cy="641.63" r="1.6" fill="#2fb84a"/>
<circle cx="252.5" cy="643.02" r="1.6" fill="#2fb84a"/>
<circle cx="249.47" cy="645.8" r="1.6" fill="#2fb84a"/>
<circle cx="248.38" cy="647.18" r="1.6" fill="#2fb84a"/>
<line x1="252.55" y1="627.07" x2="252.55" y2="638.86" stroke="#151515" stroke-width="1.05"/>
<line x1="250.3" y1="627.07" x2="254.8" y2="627.07" stroke="#151515" stroke-width="1.05"/>
<line x1="250.3" y1="638.86" x2="254.8" y2="638.86" stroke="#151515" stroke-width="1.05"/>
<rect x="267.2" y="663.79" width="9.5" height="2.81" fill="#8aabcb"/>
<circle cx="275.66" cy="663.23" r="1.6" fill="#124f8c"/>
<circle cx="270.99" cy="663.79" r="1.6" fill="#124f8c"/>
<circle cx="274.7" cy="664.07" r="1.6" fill="#124f8c"/>
<circle cx="269.79" cy="664.35" r="1.6" fill="#124f8c"/>
<circle cx="271.8" cy="663.51" r="1.6" fill="#124f8c"/>
<circle cx="270.01" cy="663.91" r="1.6" fill="#124f8c"/>
<rect x="278.9" y="634.04" width="9.7" height="32.56" fill="#e2889a"/>
<circle cx="286.61" cy="608.22" r="1.6" fill="#cf0d30"/>
<circle cx="281.24" cy="611.59" r="1.6" fill="#cf0d30"/>
<circle cx="287.61" cy="632.92" r="1.6" fill="#cf0d30"/>
<circle cx="283.7" cy="634.61" r="1.6" fill="#cf0d30"/>
<circle cx="282.86" cy="635.73" r="1.6" fill="#cf0d30"/>
<circle cx="284.77" cy="637.41" r="1.6" fill="#cf0d30"/>
<circle cx="280.87" cy="641.34" r="1.6" fill="#cf0d30"/>
<circle cx="281.08" cy="656.5" r="1.6" fill="#cf0d30"/>
<circle cx="283.07" cy="658.18" r="1.6" fill="#cf0d30"/>
<line x1="283.75" y1="629.55" x2="283.75" y2="639.1" stroke="#151515" stroke-width="1.05"/>
<line x1="281.5" y1="629.55" x2="286" y2="629.55" stroke="#151515" stroke-width="1.05"/>
<line x1="281.5" y1="639.1" x2="286" y2="639.1" stroke="#151515" stroke-width="1.05"/>
<rect x="290.8" y="662.67" width="9.5" height="3.93" fill="#a3dea9"/>
<circle cx="295.39" cy="649.2" r="1.6" fill="#2fb84a"/>
<circle cx="296.97" cy="660.99" r="1.6" fill="#2fb84a"/>
<circle cx="296.57" cy="662.11" r="1.6" fill="#2fb84a"/>
<circle cx="297.26" cy="663.23" r="1.6" fill="#2fb84a"/>
<circle cx="298.99" cy="663.79" r="1.6" fill="#2fb84a"/>
<circle cx="297.7" cy="664.35" r="1.6" fill="#2fb84a"/>
<circle cx="292.67" cy="664.92" r="1.6" fill="#2fb84a"/>
<circle cx="293.16" cy="664.92" r="1.6" fill="#2fb84a"/>
<line x1="295.55" y1="660.43" x2="295.55" y2="664.35" stroke="#151515" stroke-width="1.05"/>
<line x1="293.3" y1="660.43" x2="297.8" y2="660.43" stroke="#151515" stroke-width="1.05"/>
<line x1="293.3" y1="664.35" x2="297.8" y2="664.35" stroke="#151515" stroke-width="1.05"/>
<rect x="305.4" y="663.79" width="9.7" height="2.81" fill="#8aabcb"/>
<circle cx="306.15" cy="663.23" r="1.6" fill="#124f8c"/>
<circle cx="313.46" cy="663.79" r="1.6" fill="#124f8c"/>
<circle cx="312.19" cy="664.07" r="1.6" fill="#124f8c"/>
<circle cx="306.04" cy="664.35" r="1.6" fill="#124f8c"/>
<circle cx="310.69" cy="663.51" r="1.6" fill="#124f8c"/>
<circle cx="307.97" cy="663.91" r="1.6" fill="#124f8c"/>
<rect x="317.4" y="636.29" width="9.9" height="30.31" fill="#e2889a"/>
<circle cx="320.04" cy="611.59" r="1.6" fill="#cf0d30"/>
<circle cx="318.77" cy="614.4" r="1.6" fill="#cf0d30"/>
<circle cx="323.83" cy="632.92" r="1.6" fill="#cf0d30"/>
<circle cx="320.06" cy="634.61" r="1.6" fill="#cf0d30"/>
<circle cx="323.46" cy="638.53" r="1.6" fill="#cf0d30"/>
<circle cx="319.26" cy="640.22" r="1.6" fill="#cf0d30"/>
<circle cx="326.63" cy="641.9" r="1.6" fill="#cf0d30"/>
<circle cx="323.91" cy="656.5" r="1.6" fill="#cf0d30"/>
<circle cx="320.52" cy="657.62" r="1.6" fill="#cf0d30"/>
<line x1="322.35" y1="631.8" x2="322.35" y2="640.78" stroke="#151515" stroke-width="1.05"/>
<line x1="320.1" y1="631.8" x2="324.6" y2="631.8" stroke="#151515" stroke-width="1.05"/>
<line x1="320.1" y1="640.78" x2="324.6" y2="640.78" stroke="#151515" stroke-width="1.05"/>
<rect x="329.7" y="646.95" width="9.8" height="19.65" fill="#a3dea9"/>
<circle cx="338.09" cy="613.84" r="1.6" fill="#2fb84a"/>
<circle cx="331.93" cy="614.96" r="1.6" fill="#2fb84a"/>
<circle cx="331.19" cy="649.76" r="1.6" fill="#2fb84a"/>
<circle cx="331.18" cy="650.88" r="1.6" fill="#2fb84a"/>
<circle cx="336.84" cy="652.57" r="1.6" fill="#2fb84a"/>
<circle cx="337.76" cy="654.25" r="1.6" fill="#2fb84a"/>
<circle cx="338.93" cy="655.37" r="1.6" fill="#2fb84a"/>
<circle cx="336.17" cy="656.5" r="1.6" fill="#2fb84a"/>
<line x1="334.6" y1="641.34" x2="334.6" y2="652.01" stroke="#151515" stroke-width="1.05"/>
<line x1="332.35" y1="641.34" x2="336.85" y2="641.34" stroke="#151515" stroke-width="1.05"/>
<line x1="332.35" y1="652.01" x2="336.85" y2="652.01" stroke="#151515" stroke-width="1.05"/>
<path d="M213.5 627.9L213.5 584.6L253.7 584.6L253.7 593.2" fill="none" stroke="#1e1e1e" stroke-width="0.9"/>
<path d="M295.2 627.4L295.2 583.9L335 583.9L335 593.6" fill="none" stroke="#1e1e1e" stroke-width="0.9"/>
<path d="M231.1 588.4L231.1 586.9M231.1 588.4L232.53 587.94M231.1 588.4L231.98 589.61M231.1 588.4L230.22 589.61M231.1 588.4L229.67 587.94" stroke="#222" stroke-width="0.85" stroke-linecap="round"/>
<path d="M234.6 588.4L234.6 586.9M234.6 588.4L236.03 587.94M234.6 588.4L235.48 589.61M234.6 588.4L233.72 589.61M234.6 588.4L233.17 587.94" stroke="#222" stroke-width="0.85" stroke-linecap="round"/>
<path d="M238.1 588.4L238.1 586.9M238.1 588.4L239.53 587.94M238.1 588.4L238.98 589.61M238.1 588.4L237.22 589.61M238.1 588.4L236.67 587.94" stroke="#222" stroke-width="0.85" stroke-linecap="round"/>
<path d="M317.4 589.2L317.4 587.7M317.4 589.2L318.83 588.74M317.4 589.2L318.28 590.41M317.4 589.2L316.52 590.41M317.4 589.2L315.97 588.74" stroke="#222" stroke-width="0.85" stroke-linecap="round"/>
<text x="200.8" y="591.45" font-size="7" text-anchor="middle" textLength="16" lengthAdjust="spacingAndGlyphs">####</text>
<text x="284.9" y="603.85" font-size="7" text-anchor="middle" textLength="16" lengthAdjust="spacingAndGlyphs">####</text>
<text x="217.3" y="637.52" font-size="7.5" text-anchor="middle" textLength="17" lengthAdjust="spacingAndGlyphs">§§§§</text>
<text x="298.8" y="643.33" font-size="7.5" text-anchor="middle" textLength="17" lengthAdjust="spacingAndGlyphs">§§§§</text>
<line x1="227.3" y1="673.7" x2="255.2" y2="673.7" stroke="#1e1e1e" stroke-width="1.2"/>
<path d="M223.5 673.7L227.8 671.5L227.8 675.9Z" fill="#1e1e1e"/>
<path d="M259 673.7L254.7 671.5L254.7 675.9Z" fill="#1e1e1e"/>
<line x1="311.4" y1="673.7" x2="338.6" y2="673.7" stroke="#1e1e1e" stroke-width="1.2"/>
<path d="M307.6 673.7L311.9 671.5L311.9 675.9Z" fill="#1e1e1e"/>
<path d="M342.4 673.7L338.1 671.5L338.1 675.9Z" fill="#1e1e1e"/>
<text x="235.1" y="684.08" font-size="8.5" textLength="12.8" lengthAdjust="spacingAndGlyphs">IP(i)</text>
<text x="318.3" y="684.08" font-size="8.5" textLength="12.8" lengthAdjust="spacingAndGlyphs">IP(i)</text>
<text x="393.2" y="559.1" font-size="11.2" font-weight="bold" fill="#000" stroke="#000" stroke-width="0.25">Giii</text>
<circle cx="403.1" cy="569.2" r="1.5" fill="#cf0d30"/>
<text x="407.7" y="572.11" font-size="8.3" textLength="19" lengthAdjust="spacingAndGlyphs">TRAP</text>
<circle cx="433.8" cy="569.2" r="1.5" fill="#124f8c"/>
<text x="438.5" y="572.11" font-size="8.3" textLength="77" lengthAdjust="spacingAndGlyphs">TRAP + CXCR7 agonist</text>
<line x1="425.5" y1="580" x2="425.5" y2="667.6" stroke="#1e1e1e" stroke-width="1.1"/>
<line x1="422.9" y1="584" x2="425.5" y2="584" stroke="#1e1e1e" stroke-width="1.1"/>
<text x="420.2" y="587.36" font-size="9.6" text-anchor="end" textLength="13.45" lengthAdjust="spacingAndGlyphs">100</text>
<line x1="422.9" y1="625.5" x2="425.5" y2="625.5" stroke="#1e1e1e" stroke-width="1.1"/>
<text x="420.2" y="628.86" font-size="9.6" text-anchor="end" textLength="8.97" lengthAdjust="spacingAndGlyphs">50</text>
<line x1="422.9" y1="667.1" x2="425.5" y2="667.1" stroke="#1e1e1e" stroke-width="1.1"/>
<text x="420.2" y="670.46" font-size="9.6" text-anchor="end" textLength="4.48" lengthAdjust="spacingAndGlyphs">0</text>
<text transform="rotate(-90 397.6 625.4)" x="397.6" y="628.44" font-size="8.7" text-anchor="middle" textLength="64.6" lengthAdjust="spacingAndGlyphs">Aggregation (AUC)</text>
<line x1="425" y1="667.1" x2="504.6" y2="667.1" stroke="#1e1e1e" stroke-width="1.1"/>
<rect x="432.9" y="602.28" width="14.2" height="64.82" fill="#e2889a"/>
<circle cx="437" cy="592.31" r="1.6" fill="#cf0d30"/>
<circle cx="443" cy="592.31" r="1.6" fill="#cf0d30"/>
<circle cx="443" cy="600.62" r="1.6" fill="#cf0d30"/>
<circle cx="437" cy="602.28" r="1.6" fill="#cf0d30"/>
<circle cx="440" cy="608.93" r="1.6" fill="#cf0d30"/>
<circle cx="439" cy="613.92" r="1.6" fill="#cf0d30"/>
<line x1="440" y1="598.96" x2="440" y2="605.61" stroke="#151515" stroke-width="1.05"/>
<line x1="437.75" y1="598.96" x2="442.25" y2="598.96" stroke="#151515" stroke-width="1.05"/>
<line x1="437.75" y1="605.61" x2="442.25" y2="605.61" stroke="#151515" stroke-width="1.05"/>
<rect x="450.2" y="623.89" width="13.8" height="43.21" fill="#8aabcb"/>
<circle cx="454.1" cy="613.09" r="1.6" fill="#124f8c"/>
<circle cx="460.1" cy="613.92" r="1.6" fill="#124f8c"/>
<circle cx="458.1" cy="619.73" r="1.6" fill="#124f8c"/>
<circle cx="453.1" cy="623.06" r="1.6" fill="#124f8c"/>
<circle cx="461.1" cy="628.04" r="1.6" fill="#124f8c"/>
<circle cx="456.1" cy="629.71" r="1.6" fill="#124f8c"/>
<line x1="457.1" y1="620.56" x2="457.1" y2="627.21" stroke="#151515" stroke-width="1.05"/>
<line x1="454.85" y1="620.56" x2="459.35" y2="620.56" stroke="#151515" stroke-width="1.05"/>
<line x1="454.85" y1="627.21" x2="459.35" y2="627.21" stroke="#151515" stroke-width="1.05"/>
<rect x="471.7" y="600.62" width="13.8" height="66.48" fill="#e2889a"/>
<circle cx="478.6" cy="592.31" r="1.6" fill="#cf0d30"/>
<circle cx="474.6" cy="600.62" r="1.6" fill="#cf0d30"/>
<circle cx="482.6" cy="601.45" r="1.6" fill="#cf0d30"/>
<circle cx="478.6" cy="602.28" r="1.6" fill="#cf0d30"/>
<circle cx="475.6" cy="604.77" r="1.6" fill="#cf0d30"/>
<circle cx="480.6" cy="607.27" r="1.6" fill="#cf0d30"/>
<line x1="478.6" y1="598.13" x2="478.6" y2="603.11" stroke="#151515" stroke-width="1.05"/>
<line x1="476.35" y1="598.13" x2="480.85" y2="598.13" stroke="#151515" stroke-width="1.05"/>
<line x1="476.35" y1="603.11" x2="480.85" y2="603.11" stroke="#151515" stroke-width="1.05"/>
<rect x="489.2" y="616.41" width="13.9" height="50.69" fill="#8aabcb"/>
<circle cx="493.15" cy="610.59" r="1.6" fill="#124f8c"/>
<circle cx="499.15" cy="610.59" r="1.6" fill="#124f8c"/>
<circle cx="496.15" cy="615.58" r="1.6" fill="#124f8c"/>
<circle cx="494.15" cy="617.24" r="1.6" fill="#124f8c"/>
<circle cx="499.15" cy="621.39" r="1.6" fill="#124f8c"/>
<circle cx="495.15" cy="623.89" r="1.6" fill="#124f8c"/>
<line x1="496.15" y1="613.92" x2="496.15" y2="619.73" stroke="#151515" stroke-width="1.05"/>
<line x1="493.9" y1="613.92" x2="498.4" y2="613.92" stroke="#151515" stroke-width="1.05"/>
<line x1="493.9" y1="619.73" x2="498.4" y2="619.73" stroke="#151515" stroke-width="1.05"/>
<line x1="435.4" y1="586.5" x2="455.3" y2="586.5" stroke="#1e1e1e" stroke-width="1"/>
<line x1="435.4" y1="583" x2="435.4" y2="590" stroke="#1e1e1e" stroke-width="1"/>
<line x1="455.3" y1="583" x2="455.3" y2="590" stroke="#1e1e1e" stroke-width="1"/>
<path d="M458.4 603.5L458.4 586.3L497 586.3L497 603.5" fill="none" stroke="#1e1e1e" stroke-width="1"/>
<text x="445.4" y="584.2" font-size="8.3" text-anchor="middle" textLength="10.1" lengthAdjust="spacingAndGlyphs">&amp;&amp;</text>
<text x="477.4" y="584.2" font-size="8.3" text-anchor="middle" textLength="5" lengthAdjust="spacingAndGlyphs">&amp;</text>
<line x1="475.7" y1="673.6" x2="500.6" y2="673.6" stroke="#1e1e1e" stroke-width="1.2"/>
<path d="M471.9 673.6L476.2 671.4L476.2 675.8Z" fill="#1e1e1e"/>
<path d="M504.4 673.6L500.1 671.4L500.1 675.8Z" fill="#1e1e1e"/>
<text x="481.4" y="684.98" font-size="8.5" textLength="12.8" lengthAdjust="spacingAndGlyphs">IP(i)</text>
<rect x="0.6" y="0.6" width="518.8" height="689.6" fill="none" stroke="#000" stroke-width="1.3"/>
</svg>
</body></html>
